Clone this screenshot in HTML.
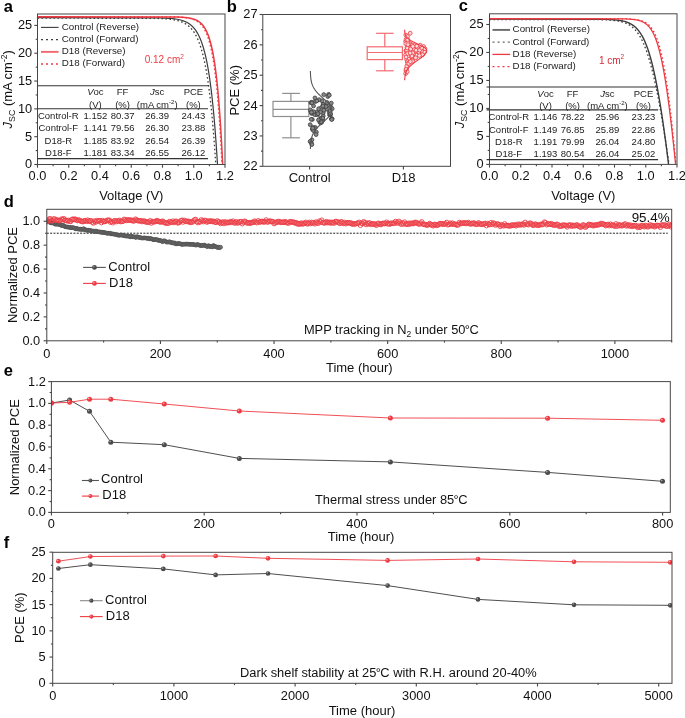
<!DOCTYPE html>
<html><head><meta charset="utf-8"><style>
html,body{margin:0;padding:0;background:#fff;}
svg{display:block;font-family:"Liberation Sans", sans-serif;will-change:transform;}
</style></head><body>
<svg width="685" height="718" viewBox="0 0 685 718">
<rect width="685" height="718" fill="#fff"/>
<clipPath id="c37"><rect x="37.5" y="14.0" width="187.5" height="150.5"/></clipPath>
<g clip-path="url(#c37)">
<polyline points="37.50,18.17 149.87,18.29 156.31,18.41 160.08,18.53 162.75,18.65 164.83,18.78 166.52,18.90 167.96,19.02 169.20,19.14 170.29,19.26 171.27,19.39 172.16,19.51 172.97,19.63 174.40,19.87 175.64,20.12 176.74,20.36 177.72,20.61 178.60,20.85 179.41,21.09 180.51,21.46 181.49,21.83 182.37,22.19 183.18,22.56 183.93,22.92 184.83,23.41 185.66,23.90 186.42,24.39 187.12,24.87 187.77,25.36 188.53,25.97 189.23,26.58 189.88,27.19 190.49,27.80 191.06,28.41 191.60,29.02 192.20,29.75 192.77,30.48 193.31,31.21 193.82,31.95 194.30,32.68 194.75,33.41 195.19,34.14 195.61,34.87 196.00,35.60 196.39,36.34 196.75,37.07 197.11,37.80 197.45,38.53 197.78,39.26 198.14,40.12 198.50,40.97 198.84,41.82 199.17,42.68 199.49,43.53 199.80,44.38 200.09,45.24 200.38,46.09 200.66,46.95 200.93,47.80 201.20,48.65 201.45,49.51 201.70,50.36 201.95,51.21 202.18,52.07 202.42,52.92 202.64,53.77 202.86,54.63 203.08,55.48 203.29,56.34 203.49,57.19 203.69,58.04 203.89,58.90 204.08,59.75 204.27,60.60 204.46,61.46 204.64,62.31 204.82,63.16 204.99,64.02 205.16,64.87 205.33,65.73 205.50,66.58 205.66,67.43 205.82,68.29 205.98,69.14 206.13,69.99 206.28,70.85 206.43,71.70 206.58,72.55 206.72,73.41 206.87,74.26 207.01,75.11 207.15,75.97 207.28,76.82 207.42,77.68 207.55,78.53 207.68,79.38 207.81,80.24 207.93,81.09 208.06,81.94 208.18,82.80 208.31,83.65 208.43,84.50 208.55,85.36 208.66,86.21 208.78,87.07 208.89,87.92 209.01,88.77 209.12,89.63 209.23,90.48 209.34,91.33 209.44,92.19 209.55,93.04 209.66,93.89 209.76,94.75 209.86,95.60 209.97,96.46 210.07,97.31 210.17,98.16 210.27,99.02 210.36,99.87 210.46,100.72 210.56,101.58 210.65,102.43 210.74,103.28 210.84,104.14 210.93,104.99 211.02,105.84 211.11,106.70 211.20,107.55 211.29,108.41 211.37,109.26 211.46,110.11 211.55,110.97 211.63,111.82 211.72,112.67 211.80,113.53 211.88,114.38 211.97,115.23 212.05,116.09 212.13,116.94 212.21,117.80 212.29,118.65 212.37,119.50 212.44,120.36 212.52,121.21 212.60,122.06 212.67,122.92 212.75,123.77 212.82,124.62 212.90,125.48 212.97,126.33 213.04,127.19 213.12,128.04 213.19,128.89 213.26,129.75 213.33,130.60 213.40,131.45 213.47,132.31 213.54,133.16 213.61,134.01 213.68,134.87 213.75,135.72 213.81,136.57 213.88,137.43 213.95,138.28 214.01,139.14 214.08,139.99 214.14,140.84 214.21,141.70 214.27,142.55 214.33,143.40 214.40,144.26 214.46,145.11 214.52,145.96 214.58,146.82 214.65,147.67 214.71,148.53 214.77,149.38 214.83,150.23 214.89,151.09 214.95,151.94 215.01,152.79 215.06,153.65 215.12,154.50 215.18,155.35 215.24,156.21 215.30,157.06 215.35,157.92 215.41,158.77 215.47,159.62 215.52,160.48 215.58,161.33 215.63,162.18 215.69,163.04 215.74,163.89 215.78,164.50" fill="none" stroke="#3c3c3c" stroke-width="1.3" stroke-linejoin="round" stroke-dasharray="1.6,2.4"/>
<polyline points="37.50,17.67 154.35,17.79 160.53,17.91 164.14,18.03 166.70,18.16 168.69,18.28 170.31,18.40 171.68,18.52 172.87,18.64 173.92,18.77 174.86,18.89 175.71,19.01 177.20,19.26 178.47,19.50 179.59,19.75 180.58,19.99 181.47,20.24 182.28,20.48 183.37,20.85 184.34,21.21 185.22,21.58 186.02,21.95 186.75,22.32 187.64,22.81 188.45,23.29 189.20,23.78 189.88,24.27 190.52,24.76 191.25,25.37 191.93,25.99 192.57,26.60 193.16,27.21 193.71,27.82 194.23,28.43 194.82,29.17 195.37,29.90 195.89,30.64 196.38,31.37 196.84,32.10 197.28,32.84 197.71,33.57 198.11,34.31 198.49,35.04 198.86,35.78 199.21,36.51 199.55,37.24 199.88,37.98 200.25,38.83 200.60,39.69 200.94,40.55 201.27,41.40 201.59,42.26 201.89,43.12 202.19,43.97 202.47,44.83 202.75,45.69 203.02,46.54 203.28,47.40 203.53,48.26 203.78,49.11 204.01,49.97 204.25,50.83 204.48,51.68 204.70,52.54 204.91,53.40 205.12,54.25 205.33,55.11 205.53,55.97 205.73,56.82 205.92,57.68 206.11,58.53 206.29,59.39 206.48,60.25 206.65,61.10 206.83,61.96 207.00,62.82 207.16,63.67 207.33,64.53 207.49,65.39 207.65,66.24 207.80,67.10 207.96,67.96 208.11,68.81 208.26,69.67 208.40,70.53 208.54,71.38 208.68,72.24 208.82,73.10 208.96,73.95 209.09,74.81 209.23,75.67 209.36,76.52 209.49,77.38 209.61,78.24 209.74,79.09 209.86,79.95 209.98,80.80 210.10,81.66 210.22,82.52 210.34,83.37 210.45,84.23 210.57,85.09 210.68,85.94 210.79,86.80 210.90,87.66 211.01,88.51 211.12,89.37 211.22,90.23 211.33,91.08 211.43,91.94 211.53,92.80 211.63,93.65 211.73,94.51 211.83,95.37 211.93,96.22 212.03,97.08 212.12,97.94 212.22,98.79 212.31,99.65 212.40,100.50 212.49,101.36 212.58,102.22 212.67,103.07 212.76,103.93 212.85,104.79 212.94,105.64 213.02,106.50 213.11,107.36 213.19,108.21 213.28,109.07 213.36,109.93 213.44,110.78 213.53,111.64 213.61,112.50 213.69,113.35 213.77,114.21 213.84,115.07 213.92,115.92 214.00,116.78 214.08,117.64 214.15,118.49 214.23,119.35 214.30,120.21 214.38,121.06 214.45,121.92 214.52,122.77 214.59,123.63 214.67,124.49 214.74,125.34 214.81,126.20 214.88,127.06 214.95,127.91 215.02,128.77 215.09,129.63 215.15,130.48 215.22,131.34 215.29,132.20 215.35,133.05 215.42,133.91 215.48,134.77 215.55,135.62 215.61,136.48 215.68,137.34 215.74,138.19 215.80,139.05 215.87,139.91 215.93,140.76 215.99,141.62 216.05,142.47 216.11,143.33 216.17,144.19 216.23,145.04 216.29,145.90 216.35,146.76 216.41,147.61 216.47,148.47 216.53,149.33 216.59,150.18 216.64,151.04 216.70,151.90 216.76,152.75 216.81,153.61 216.87,154.47 216.93,155.32 216.98,156.18 217.04,157.04 217.09,157.89 217.14,158.75 217.20,159.61 217.25,160.46 217.30,161.32 217.36,162.18 217.41,163.03 217.46,163.89 217.50,164.50" fill="none" stroke="#3c3c3c" stroke-width="1.2" stroke-linejoin="round" />
<polyline points="37.50,16.78 171.63,16.90 176.55,17.02 179.44,17.15 181.48,17.27 183.07,17.39 184.36,17.51 185.46,17.64 186.41,17.76 187.25,17.88 188.67,18.13 189.86,18.38 190.88,18.62 191.77,18.87 192.56,19.11 193.60,19.48 194.51,19.85 195.32,20.22 196.04,20.59 196.90,21.08 197.67,21.58 198.37,22.07 199.00,22.56 199.72,23.18 200.37,23.79 200.97,24.41 201.52,25.02 202.03,25.64 202.60,26.38 203.13,27.12 203.62,27.86 204.07,28.59 204.51,29.33 204.91,30.07 205.30,30.81 205.66,31.55 206.01,32.29 206.34,33.03 206.65,33.76 207.01,34.63 207.34,35.49 207.66,36.35 207.97,37.21 208.26,38.07 208.54,38.93 208.82,39.80 209.08,40.66 209.33,41.52 209.57,42.38 209.81,43.24 210.03,44.10 210.26,44.97 210.47,45.83 210.68,46.69 210.88,47.55 211.08,48.41 211.27,49.28 211.45,50.14 211.63,51.00 211.81,51.86 211.98,52.72 212.15,53.58 212.32,54.45 212.48,55.31 212.63,56.17 212.79,57.03 212.94,57.89 213.09,58.75 213.23,59.62 213.37,60.48 213.51,61.34 213.65,62.20 213.78,63.06 213.91,63.92 214.04,64.79 214.17,65.65 214.29,66.51 214.41,67.37 214.53,68.23 214.65,69.09 214.77,69.96 214.88,70.82 214.99,71.68 215.11,72.54 215.21,73.40 215.32,74.27 215.43,75.13 215.53,75.99 215.63,76.85 215.74,77.71 215.84,78.57 215.93,79.44 216.03,80.30 216.13,81.16 216.22,82.02 216.31,82.88 216.41,83.74 216.50,84.61 216.59,85.47 216.68,86.33 216.76,87.19 216.85,88.05 216.94,88.91 217.02,89.78 217.10,90.64 217.19,91.50 217.27,92.36 217.35,93.22 217.43,94.08 217.51,94.95 217.58,95.81 217.66,96.67 217.74,97.53 217.81,98.39 217.89,99.26 217.96,100.12 218.03,100.98 218.11,101.84 218.18,102.70 218.25,103.56 218.32,104.43 218.39,105.29 218.46,106.15 218.53,107.01 218.59,107.87 218.66,108.73 218.73,109.60 218.79,110.46 218.86,111.32 218.92,112.18 218.99,113.04 219.05,113.90 219.11,114.77 219.18,115.63 219.24,116.49 219.30,117.35 219.36,118.21 219.42,119.07 219.48,119.94 219.54,120.80 219.60,121.66 219.65,122.52 219.71,123.38 219.77,124.25 219.83,125.11 219.88,125.97 219.94,126.83 219.99,127.69 220.05,128.55 220.10,129.42 220.16,130.28 220.21,131.14 220.26,132.00 220.32,132.86 220.37,133.72 220.42,134.59 220.47,135.45 220.53,136.31 220.58,137.17 220.63,138.03 220.68,138.89 220.73,139.76 220.78,140.62 220.83,141.48 220.88,142.34 220.92,143.20 220.97,144.06 221.02,144.93 221.07,145.79 221.12,146.65 221.16,147.51 221.21,148.37 221.26,149.24 221.30,150.10 221.35,150.96 221.39,151.82 221.44,152.68 221.48,153.54 221.53,154.41 221.57,155.27 221.62,156.13 221.66,156.99 221.70,157.85 221.75,158.71 221.79,159.58 221.83,160.44 221.88,161.30 221.92,162.16 221.96,163.02 222.00,163.88 222.03,164.50" fill="none" stroke="#ee3b43" stroke-width="1.5" stroke-linejoin="round" stroke-dasharray="1.6,2.4"/>
<polyline points="37.50,16.83 173.47,16.95 178.28,17.08 181.09,17.20 183.09,17.32 184.63,17.45 185.90,17.57 186.97,17.69 187.89,17.82 188.71,17.94 190.10,18.19 191.26,18.43 192.26,18.68 193.12,18.92 193.90,19.17 194.91,19.54 195.80,19.91 196.59,20.28 197.51,20.77 198.33,21.26 199.06,21.75 199.72,22.25 200.47,22.86 201.14,23.48 201.76,24.09 202.32,24.71 202.84,25.32 203.42,26.06 203.96,26.80 204.45,27.54 204.91,28.28 205.35,29.01 205.76,29.75 206.14,30.49 206.51,31.23 206.85,31.97 207.18,32.71 207.50,33.44 207.85,34.31 208.18,35.17 208.50,36.03 208.81,36.89 209.10,37.75 209.38,38.61 209.65,39.47 209.91,40.34 210.16,41.20 210.40,42.06 210.63,42.92 210.86,43.78 211.07,44.64 211.29,45.50 211.49,46.37 211.69,47.23 211.88,48.09 212.07,48.95 212.26,49.81 212.44,50.67 212.61,51.53 212.78,52.39 212.95,53.26 213.11,54.12 213.27,54.98 213.42,55.84 213.57,56.70 213.72,57.56 213.87,58.42 214.01,59.29 214.15,60.15 214.28,61.01 214.42,61.87 214.55,62.73 214.68,63.59 214.81,64.45 214.93,65.32 215.05,66.18 215.17,67.04 215.29,67.90 215.41,68.76 215.52,69.62 215.63,70.48 215.74,71.35 215.85,72.21 215.96,73.07 216.06,73.93 216.17,74.79 216.27,75.65 216.37,76.51 216.47,77.38 216.57,78.24 216.67,79.10 216.76,79.96 216.85,80.82 216.95,81.68 217.04,82.54 217.13,83.41 217.22,84.27 217.31,85.13 217.39,85.99 217.48,86.85 217.56,87.71 217.65,88.57 217.73,89.44 217.81,90.30 217.89,91.16 217.97,92.02 218.05,92.88 218.13,93.74 218.21,94.60 218.28,95.46 218.36,96.33 218.43,97.19 218.51,98.05 218.58,98.91 218.65,99.77 218.73,100.63 218.80,101.49 218.87,102.36 218.94,103.22 219.01,104.08 219.07,104.94 219.14,105.80 219.21,106.66 219.27,107.52 219.34,108.39 219.40,109.25 219.47,110.11 219.53,110.97 219.60,111.83 219.66,112.69 219.72,113.55 219.78,114.42 219.84,115.28 219.90,116.14 219.96,117.00 220.02,117.86 220.08,118.72 220.14,119.58 220.20,120.45 220.26,121.31 220.31,122.17 220.37,123.03 220.43,123.89 220.48,124.75 220.54,125.61 220.59,126.48 220.65,127.34 220.70,128.20 220.75,129.06 220.81,129.92 220.86,130.78 220.91,131.64 220.96,132.51 221.01,133.37 221.06,134.23 221.12,135.09 221.17,135.95 221.22,136.81 221.27,137.67 221.31,138.53 221.36,139.40 221.41,140.26 221.46,141.12 221.51,141.98 221.56,142.84 221.60,143.70 221.65,144.56 221.70,145.43 221.74,146.29 221.79,147.15 221.83,148.01 221.88,148.87 221.93,149.73 221.97,150.59 222.01,151.46 222.06,152.32 222.10,153.18 222.15,154.04 222.19,154.90 222.23,155.76 222.28,156.62 222.32,157.49 222.36,158.35 222.40,159.21 222.44,160.07 222.49,160.93 222.53,161.79 222.57,162.65 222.61,163.52 222.65,164.38 222.66,164.50" fill="none" stroke="#ee3b43" stroke-width="1.5" stroke-linejoin="round" />
</g>
<rect x="37.50" y="14.00" width="187.50" height="150.50" fill="none" stroke="#464646" stroke-width="1.0"/>
<line x1="34.30" y1="164.50" x2="37.50" y2="164.50" stroke="#464646" stroke-width="1.1" />
<line x1="34.30" y1="136.68" x2="37.50" y2="136.68" stroke="#464646" stroke-width="1.1" />
<line x1="34.30" y1="108.86" x2="37.50" y2="108.86" stroke="#464646" stroke-width="1.1" />
<line x1="34.30" y1="81.04" x2="37.50" y2="81.04" stroke="#464646" stroke-width="1.1" />
<line x1="34.30" y1="53.22" x2="37.50" y2="53.22" stroke="#464646" stroke-width="1.1" />
<line x1="34.30" y1="25.40" x2="37.50" y2="25.40" stroke="#464646" stroke-width="1.1" />
<line x1="35.70" y1="150.59" x2="37.50" y2="150.59" stroke="#464646" stroke-width="1.1" />
<line x1="35.70" y1="122.77" x2="37.50" y2="122.77" stroke="#464646" stroke-width="1.1" />
<line x1="35.70" y1="94.95" x2="37.50" y2="94.95" stroke="#464646" stroke-width="1.1" />
<line x1="35.70" y1="67.13" x2="37.50" y2="67.13" stroke="#464646" stroke-width="1.1" />
<line x1="35.70" y1="39.31" x2="37.50" y2="39.31" stroke="#464646" stroke-width="1.1" />
<text x="32.20" y="168.48" font-size="12.8" text-anchor="end" fill="#111" >0</text>
<text x="32.20" y="140.66" font-size="12.8" text-anchor="end" fill="#111" >5</text>
<text x="32.20" y="112.84" font-size="12.8" text-anchor="end" fill="#111" >10</text>
<text x="32.20" y="85.02" font-size="12.8" text-anchor="end" fill="#111" >15</text>
<text x="32.20" y="57.20" font-size="12.8" text-anchor="end" fill="#111" >20</text>
<text x="32.20" y="29.38" font-size="12.8" text-anchor="end" fill="#111" >25</text>
<line x1="37.50" y1="164.50" x2="37.50" y2="167.70" stroke="#464646" stroke-width="1.1" />
<line x1="68.75" y1="164.50" x2="68.75" y2="167.70" stroke="#464646" stroke-width="1.1" />
<line x1="100.00" y1="164.50" x2="100.00" y2="167.70" stroke="#464646" stroke-width="1.1" />
<line x1="131.25" y1="164.50" x2="131.25" y2="167.70" stroke="#464646" stroke-width="1.1" />
<line x1="162.50" y1="164.50" x2="162.50" y2="167.70" stroke="#464646" stroke-width="1.1" />
<line x1="193.75" y1="164.50" x2="193.75" y2="167.70" stroke="#464646" stroke-width="1.1" />
<line x1="225.00" y1="164.50" x2="225.00" y2="167.70" stroke="#464646" stroke-width="1.1" />
<line x1="53.12" y1="164.50" x2="53.12" y2="166.30" stroke="#464646" stroke-width="1.1" />
<line x1="84.38" y1="164.50" x2="84.38" y2="166.30" stroke="#464646" stroke-width="1.1" />
<line x1="115.62" y1="164.50" x2="115.62" y2="166.30" stroke="#464646" stroke-width="1.1" />
<line x1="146.88" y1="164.50" x2="146.88" y2="166.30" stroke="#464646" stroke-width="1.1" />
<line x1="178.12" y1="164.50" x2="178.12" y2="166.30" stroke="#464646" stroke-width="1.1" />
<line x1="209.38" y1="164.50" x2="209.38" y2="166.30" stroke="#464646" stroke-width="1.1" />
<text x="37.50" y="180.30" font-size="12.8" text-anchor="middle" fill="#111" >0.0</text>
<text x="68.75" y="180.30" font-size="12.8" text-anchor="middle" fill="#111" >0.2</text>
<text x="100.00" y="180.30" font-size="12.8" text-anchor="middle" fill="#111" >0.4</text>
<text x="131.25" y="180.30" font-size="12.8" text-anchor="middle" fill="#111" >0.6</text>
<text x="162.50" y="180.30" font-size="12.8" text-anchor="middle" fill="#111" >0.8</text>
<text x="193.75" y="180.30" font-size="12.8" text-anchor="middle" fill="#111" >1.0</text>
<text x="225.00" y="180.30" font-size="12.8" text-anchor="middle" fill="#111" >1.2</text>
<line x1="41.00" y1="27.40" x2="58.60" y2="27.40" stroke="#3c3c3c" stroke-width="1.1" />
<text x="61.80" y="29.60" font-size="9.8" text-anchor="start" fill="#222" >Control (Reverse)</text>
<line x1="41.00" y1="39.63" x2="58.60" y2="39.63" stroke="#3c3c3c" stroke-width="1.3" stroke-dasharray="2,3"/>
<text x="61.80" y="41.83" font-size="9.8" text-anchor="start" fill="#222" >Control (Forward)</text>
<line x1="41.00" y1="51.86" x2="58.60" y2="51.86" stroke="#f0686d" stroke-width="1.9" />
<text x="61.80" y="54.06" font-size="9.8" text-anchor="start" fill="#222" >D18 (Reverse)</text>
<line x1="41.00" y1="64.09" x2="58.60" y2="64.09" stroke="#ee3b43" stroke-width="1.5" stroke-dasharray="2,3"/>
<text x="61.80" y="66.29" font-size="9.8" text-anchor="start" fill="#222" >D18 (Forward)</text>
<text x="144.70" y="62.90" font-size="10" fill="#ee3b43">0.12 cm<tspan font-size="6.5" dy="-4.2">2</tspan></text>
<line x1="37.50" y1="85.80" x2="208.00" y2="85.80" stroke="#333" stroke-width="1.1" />
<line x1="37.50" y1="108.80" x2="208.00" y2="108.80" stroke="#333" stroke-width="1.1" />
<line x1="37.50" y1="158.60" x2="208.00" y2="158.60" stroke="#333" stroke-width="1.1" />
<text x="95.40" y="95.30" font-size="9.5" text-anchor="middle" fill="#222"><tspan font-style="italic">V</tspan>oc</text>
<text x="95.40" y="107.60" font-size="9.5" text-anchor="middle" fill="#222" >(V)</text>
<text x="122.60" y="95.30" font-size="9.5" text-anchor="middle" fill="#222" >FF</text>
<text x="122.60" y="107.60" font-size="9.5" text-anchor="middle" fill="#222" >(%)</text>
<text x="157.20" y="95.30" font-size="9.5" text-anchor="middle" fill="#222"><tspan font-style="italic">J</tspan>sc</text>
<text x="157.20" y="107.60" font-size="9.5" text-anchor="middle" fill="#222">(mA cm<tspan font-size="6" dy="-3.5">-2</tspan><tspan dy="3.5">)</tspan></text>
<text x="193.40" y="95.30" font-size="9.5" text-anchor="middle" fill="#222" >PCE</text>
<text x="193.40" y="107.60" font-size="9.5" text-anchor="middle" fill="#222" >(%)</text>
<text x="58.30" y="118.70" font-size="9.5" text-anchor="middle" fill="#222" >Control-R</text>
<text x="95.40" y="118.70" font-size="9.5" text-anchor="middle" fill="#222" >1.152</text>
<text x="122.60" y="118.70" font-size="9.5" text-anchor="middle" fill="#222" >80.37</text>
<text x="157.20" y="118.70" font-size="9.5" text-anchor="middle" fill="#222" >26.39</text>
<text x="193.40" y="118.70" font-size="9.5" text-anchor="middle" fill="#222" >24.43</text>
<text x="58.30" y="131.20" font-size="9.5" text-anchor="middle" fill="#222" >Control-F</text>
<text x="95.40" y="131.20" font-size="9.5" text-anchor="middle" fill="#222" >1.141</text>
<text x="122.60" y="131.20" font-size="9.5" text-anchor="middle" fill="#222" >79.56</text>
<text x="157.20" y="131.20" font-size="9.5" text-anchor="middle" fill="#222" >26.30</text>
<text x="193.40" y="131.20" font-size="9.5" text-anchor="middle" fill="#222" >23.88</text>
<text x="58.30" y="143.60" font-size="9.5" text-anchor="middle" fill="#222" >D18-R</text>
<text x="95.40" y="143.60" font-size="9.5" text-anchor="middle" fill="#222" >1.185</text>
<text x="122.60" y="143.60" font-size="9.5" text-anchor="middle" fill="#222" >83.92</text>
<text x="157.20" y="143.60" font-size="9.5" text-anchor="middle" fill="#222" >26.54</text>
<text x="193.40" y="143.60" font-size="9.5" text-anchor="middle" fill="#222" >26.39</text>
<text x="58.30" y="155.90" font-size="9.5" text-anchor="middle" fill="#222" >D18-F</text>
<text x="95.40" y="155.90" font-size="9.5" text-anchor="middle" fill="#222" >1.181</text>
<text x="122.60" y="155.90" font-size="9.5" text-anchor="middle" fill="#222" >83.34</text>
<text x="157.20" y="155.90" font-size="9.5" text-anchor="middle" fill="#222" >26.55</text>
<text x="193.40" y="155.90" font-size="9.5" text-anchor="middle" fill="#222" >26.12</text>
<text x="3.80" y="11.50" font-size="16.5" text-anchor="start" fill="#000" font-weight="bold" >a</text>
<text x="131.30" y="199.70" font-size="13.0" text-anchor="middle" fill="#111" >Voltage (V)</text>
<text transform="translate(11.60,89.30) rotate(-90)" x="0" y="0" font-size="13.0" text-anchor="middle" fill="#111"><tspan font-style="italic">J</tspan><tspan font-size="8.8" dy="3.4">SC</tspan><tspan dy="-3.4"> (mA cm</tspan><tspan font-size="8.5" dy="-4.6">-2</tspan><tspan dy="4.6">)</tspan></text>
<clipPath id="c489"><rect x="489.5" y="13.8" width="187.5" height="150.6"/></clipPath>
<g clip-path="url(#c489)">
<polyline points="489.50,19.52 596.48,19.64 602.39,19.76 605.85,19.88 608.31,20.00 610.22,20.12 611.79,20.24 613.11,20.36 614.26,20.49 615.27,20.61 616.18,20.73 617.00,20.85 618.44,21.09 619.68,21.33 620.77,21.57 621.73,21.81 622.61,22.05 623.40,22.30 624.48,22.66 625.44,23.02 626.31,23.38 627.10,23.75 627.83,24.11 628.72,24.59 629.54,25.07 630.29,25.56 630.98,26.04 631.63,26.52 632.39,27.13 633.09,27.73 633.74,28.33 634.36,28.94 634.94,29.54 635.49,30.14 636.11,30.87 636.70,31.59 637.26,32.32 637.79,33.04 638.29,33.77 638.77,34.49 639.24,35.21 639.68,35.94 640.11,36.66 640.52,37.39 640.92,38.11 641.31,38.84 641.69,39.56 642.05,40.29 642.40,41.01 642.74,41.73 643.13,42.58 643.51,43.42 643.88,44.27 644.24,45.12 644.58,45.96 644.92,46.81 645.25,47.65 645.58,48.50 645.89,49.34 646.20,50.19 646.50,51.03 646.80,51.88 647.09,52.72 647.38,53.57 647.66,54.41 647.93,55.26 648.20,56.10 648.47,56.95 648.73,57.79 648.98,58.64 649.24,59.48 649.49,60.33 649.73,61.17 649.97,62.02 650.21,62.86 650.45,63.71 650.68,64.55 650.91,65.40 651.14,66.24 651.36,67.09 651.58,67.93 651.80,68.78 652.02,69.62 652.23,70.47 652.44,71.31 652.65,72.16 652.86,73.00 653.06,73.85 653.26,74.69 653.46,75.54 653.66,76.39 653.86,77.23 654.05,78.08 654.25,78.92 654.44,79.77 654.63,80.61 654.82,81.46 655.00,82.30 655.19,83.15 655.37,83.99 655.55,84.84 655.73,85.68 655.91,86.53 656.09,87.37 656.27,88.22 656.44,89.06 656.62,89.91 656.79,90.75 656.96,91.60 657.13,92.44 657.30,93.29 657.47,94.13 657.64,94.98 657.80,95.82 657.97,96.67 658.13,97.51 658.29,98.36 658.46,99.20 658.62,100.05 658.78,100.89 658.94,101.74 659.09,102.58 659.25,103.43 659.41,104.27 659.56,105.12 659.72,105.96 659.87,106.81 660.03,107.66 660.18,108.50 660.33,109.35 660.48,110.19 660.63,111.04 660.78,111.88 660.93,112.73 661.08,113.57 661.22,114.42 661.37,115.26 661.52,116.11 661.66,116.95 661.81,117.80 661.95,118.64 662.09,119.49 662.24,120.33 662.38,121.18 662.52,122.02 662.66,122.87 662.80,123.71 662.94,124.56 663.08,125.40 663.22,126.25 663.36,127.09 663.50,127.94 663.63,128.78 663.77,129.63 663.91,130.47 664.04,131.32 664.18,132.16 664.31,133.01 664.45,133.85 664.58,134.70 664.71,135.54 664.85,136.39 664.98,137.23 665.11,138.08 665.24,138.93 665.37,139.77 665.50,140.62 665.63,141.46 665.76,142.31 665.89,143.15 666.02,144.00 666.15,144.84 666.28,145.69 666.41,146.53 666.53,147.38 666.66,148.22 666.79,149.07 666.92,149.91 667.04,150.76 667.17,151.60 667.29,152.45 667.42,153.29 667.54,154.14 667.67,154.98 667.79,155.83 667.91,156.67 668.04,157.52 668.16,158.36 668.28,159.21 668.41,160.05 668.53,160.90 668.65,161.74 668.77,162.59 668.89,163.43 669.01,164.28 669.03,164.40" fill="none" stroke="#3c3c3c" stroke-width="1.3" stroke-linejoin="round" stroke-dasharray="1.6,2.4"/>
<polyline points="489.50,19.13 599.71,19.25 605.52,19.37 608.92,19.49 611.34,19.61 613.22,19.73 614.75,19.85 616.05,19.98 617.18,20.10 618.17,20.22 619.06,20.34 619.87,20.46 621.28,20.70 622.50,20.94 623.56,21.19 624.51,21.43 625.36,21.67 626.14,21.91 627.19,22.28 628.13,22.64 628.98,23.00 629.75,23.36 630.69,23.85 631.54,24.33 632.32,24.82 633.03,25.30 633.69,25.79 634.46,26.39 635.17,27.00 635.83,27.60 636.45,28.21 637.03,28.81 637.58,29.42 638.20,30.14 638.78,30.87 639.33,31.60 639.85,32.32 640.35,33.05 640.82,33.78 641.27,34.50 641.71,35.23 642.12,35.96 642.52,36.68 642.91,37.41 643.29,38.13 643.65,38.86 644.00,39.59 644.34,40.31 644.72,41.16 645.09,42.01 645.45,42.86 645.80,43.70 646.14,44.55 646.47,45.40 646.79,46.25 647.10,47.09 647.41,47.94 647.71,48.79 648.00,49.63 648.28,50.48 648.56,51.33 648.84,52.18 649.10,53.02 649.37,53.87 649.62,54.72 649.87,55.57 650.12,56.41 650.37,57.26 650.61,58.11 650.84,58.96 651.07,59.80 651.30,60.65 651.53,61.50 651.75,62.35 651.96,63.19 652.18,64.04 652.39,64.89 652.60,65.74 652.81,66.58 653.01,67.43 653.21,68.28 653.41,69.13 653.61,69.97 653.80,70.82 653.99,71.67 654.18,72.52 654.37,73.36 654.55,74.21 654.74,75.06 654.92,75.91 655.10,76.75 655.27,77.60 655.45,78.45 655.62,79.29 655.80,80.14 655.97,80.99 656.14,81.84 656.30,82.68 656.47,83.53 656.64,84.38 656.80,85.23 656.96,86.07 657.12,86.92 657.28,87.77 657.44,88.62 657.60,89.46 657.75,90.31 657.91,91.16 658.06,92.01 658.21,92.85 658.36,93.70 658.51,94.55 658.66,95.40 658.81,96.24 658.96,97.09 659.10,97.94 659.25,98.79 659.39,99.63 659.53,100.48 659.68,101.33 659.82,102.18 659.96,103.02 660.10,103.87 660.24,104.72 660.37,105.56 660.51,106.41 660.65,107.26 660.78,108.11 660.92,108.95 661.05,109.80 661.18,110.65 661.32,111.50 661.45,112.34 661.58,113.19 661.71,114.04 661.84,114.89 661.97,115.73 662.10,116.58 662.22,117.43 662.35,118.28 662.48,119.12 662.60,119.97 662.73,120.82 662.85,121.67 662.98,122.51 663.10,123.36 663.23,124.21 663.35,125.06 663.47,125.90 663.59,126.75 663.71,127.60 663.83,128.45 663.95,129.29 664.07,130.14 664.19,130.99 664.31,131.83 664.43,132.68 664.55,133.53 664.66,134.38 664.78,135.22 664.90,136.07 665.01,136.92 665.13,137.77 665.24,138.61 665.36,139.46 665.47,140.31 665.58,141.16 665.70,142.00 665.81,142.85 665.92,143.70 666.04,144.55 666.15,145.39 666.26,146.24 666.37,147.09 666.48,147.94 666.59,148.78 666.70,149.63 666.81,150.48 666.92,151.33 667.03,152.17 667.14,153.02 667.24,153.87 667.35,154.72 667.46,155.56 667.57,156.41 667.67,157.26 667.78,158.10 667.89,158.95 667.99,159.80 668.10,160.65 668.20,161.49 668.31,162.34 668.41,163.19 668.52,164.04 668.56,164.40" fill="none" stroke="#3c3c3c" stroke-width="1.4" stroke-linejoin="round" />
<polyline points="489.50,18.68 622.51,18.80 627.06,18.92 629.73,19.04 631.62,19.17 633.09,19.29 634.30,19.41 635.31,19.53 636.19,19.65 637.67,19.89 638.88,20.14 639.90,20.38 640.79,20.62 641.57,20.87 642.60,21.23 643.50,21.59 644.29,21.96 645.22,22.44 646.04,22.93 646.77,23.42 647.43,23.90 648.18,24.51 648.86,25.12 649.48,25.72 650.05,26.33 650.58,26.94 651.17,27.67 651.72,28.39 652.23,29.12 652.70,29.85 653.15,30.58 653.58,31.31 653.98,32.04 654.36,32.77 654.73,33.50 655.08,34.22 655.41,34.95 655.79,35.80 656.14,36.65 656.49,37.50 656.82,38.35 657.14,39.20 657.44,40.05 657.74,40.90 658.02,41.75 658.30,42.60 658.57,43.45 658.83,44.30 659.09,45.15 659.33,46.00 659.58,46.85 659.81,47.70 660.04,48.55 660.26,49.40 660.48,50.25 660.70,51.10 660.91,51.95 661.11,52.80 661.32,53.65 661.51,54.50 661.71,55.35 661.90,56.20 662.09,57.05 662.27,57.90 662.45,58.75 662.63,59.60 662.80,60.45 662.97,61.30 663.14,62.15 663.31,63.00 663.48,63.85 663.64,64.70 663.80,65.55 663.96,66.40 664.11,67.25 664.27,68.10 664.42,68.95 664.57,69.80 664.72,70.65 664.86,71.50 665.01,72.35 665.15,73.20 665.29,74.05 665.43,74.90 665.57,75.75 665.71,76.60 665.85,77.45 665.98,78.30 666.11,79.15 666.24,80.00 666.37,80.85 666.50,81.70 666.63,82.55 666.76,83.40 666.88,84.25 667.01,85.10 667.13,85.95 667.26,86.80 667.38,87.65 667.50,88.50 667.62,89.35 667.74,90.20 667.85,91.05 667.97,91.90 668.09,92.75 668.20,93.60 668.31,94.45 668.43,95.30 668.54,96.15 668.65,97.00 668.76,97.85 668.87,98.70 668.98,99.55 669.09,100.40 669.20,101.25 669.31,102.10 669.41,102.95 669.52,103.80 669.62,104.65 669.73,105.50 669.83,106.35 669.94,107.20 670.04,108.05 670.14,108.91 670.24,109.76 670.34,110.61 670.45,111.46 670.55,112.31 670.64,113.16 670.74,114.01 670.84,114.86 670.94,115.71 671.04,116.56 671.13,117.41 671.23,118.26 671.33,119.11 671.42,119.96 671.52,120.81 671.61,121.66 671.71,122.51 671.80,123.36 671.89,124.21 671.98,125.06 672.08,125.91 672.17,126.76 672.26,127.61 672.35,128.46 672.44,129.31 672.53,130.16 672.62,131.01 672.71,131.86 672.80,132.71 672.89,133.56 672.98,134.41 673.07,135.26 673.15,136.11 673.24,136.96 673.33,137.81 673.42,138.66 673.50,139.51 673.59,140.36 673.67,141.21 673.76,142.06 673.84,142.91 673.93,143.76 674.01,144.61 674.10,145.46 674.18,146.31 674.27,147.16 674.35,148.01 674.43,148.86 674.52,149.71 674.60,150.56 674.68,151.41 674.76,152.26 674.84,153.11 674.93,153.96 675.01,154.81 675.09,155.66 675.17,156.51 675.25,157.36 675.33,158.21 675.41,159.06 675.49,159.91 675.57,160.76 675.65,161.61 675.73,162.46 675.81,163.31 675.88,164.16 675.91,164.40" fill="none" stroke="#ee3b43" stroke-width="1.4" stroke-linejoin="round" stroke-dasharray="1.6,2.4"/>
<polyline points="489.50,18.68 621.06,18.80 625.61,18.92 628.28,19.04 630.17,19.17 631.64,19.29 632.85,19.41 633.87,19.53 634.75,19.65 636.23,19.89 637.44,20.14 638.46,20.38 639.35,20.62 640.14,20.87 641.17,21.23 642.07,21.59 642.86,21.96 643.79,22.44 644.62,22.93 645.35,23.42 646.02,23.90 646.77,24.51 647.46,25.12 648.08,25.72 648.66,26.33 649.19,26.94 649.79,27.67 650.34,28.39 650.86,29.12 651.34,29.85 651.79,30.58 652.22,31.31 652.63,32.04 653.02,32.77 653.39,33.50 653.75,34.22 654.09,34.95 654.47,35.80 654.83,36.65 655.18,37.50 655.52,38.35 655.84,39.20 656.16,40.05 656.46,40.90 656.75,41.75 657.04,42.60 657.31,43.45 657.58,44.30 657.84,45.15 658.10,46.00 658.34,46.85 658.59,47.70 658.82,48.55 659.05,49.40 659.28,50.25 659.50,51.10 659.72,51.95 659.93,52.80 660.14,53.65 660.34,54.50 660.54,55.35 660.74,56.20 660.93,57.05 661.12,57.90 661.31,58.75 661.49,59.60 661.68,60.45 661.86,61.30 662.03,62.15 662.21,63.00 662.38,63.85 662.55,64.70 662.71,65.55 662.88,66.40 663.04,67.25 663.20,68.10 663.36,68.95 663.52,69.80 663.67,70.65 663.82,71.50 663.98,72.35 664.13,73.20 664.27,74.05 664.42,74.90 664.57,75.75 664.71,76.60 664.85,77.45 664.99,78.30 665.13,79.15 665.27,80.00 665.41,80.85 665.54,81.70 665.68,82.55 665.81,83.40 665.94,84.25 666.08,85.10 666.21,85.95 666.34,86.80 666.46,87.65 666.59,88.50 666.72,89.35 666.84,90.20 666.97,91.05 667.09,91.90 667.21,92.75 667.33,93.60 667.45,94.45 667.57,95.30 667.69,96.15 667.81,97.00 667.93,97.85 668.05,98.70 668.16,99.55 668.28,100.40 668.39,101.25 668.51,102.10 668.62,102.95 668.73,103.80 668.84,104.65 668.96,105.50 669.07,106.35 669.18,107.20 669.29,108.05 669.40,108.91 669.50,109.76 669.61,110.61 669.72,111.46 669.82,112.31 669.93,113.16 670.04,114.01 670.14,114.86 670.25,115.71 670.35,116.56 670.45,117.41 670.56,118.26 670.66,119.11 670.76,119.96 670.86,120.81 670.96,121.66 671.06,122.51 671.16,123.36 671.26,124.21 671.36,125.06 671.46,125.91 671.56,126.76 671.66,127.61 671.76,128.46 671.86,129.31 671.95,130.16 672.05,131.01 672.14,131.86 672.24,132.71 672.34,133.56 672.43,134.41 672.53,135.26 672.62,136.11 672.71,136.96 672.81,137.81 672.90,138.66 673.00,139.51 673.09,140.36 673.18,141.21 673.27,142.06 673.36,142.91 673.46,143.76 673.55,144.61 673.64,145.46 673.73,146.31 673.82,147.16 673.91,148.01 674.00,148.86 674.09,149.71 674.18,150.56 674.27,151.41 674.35,152.26 674.44,153.11 674.53,153.96 674.62,154.81 674.71,155.66 674.79,156.51 674.88,157.36 674.97,158.21 675.05,159.06 675.14,159.91 675.23,160.76 675.31,161.61 675.40,162.46 675.48,163.31 675.57,164.16 675.59,164.40" fill="none" stroke="#ee3b43" stroke-width="1.3" stroke-linejoin="round" />
</g>
<rect x="489.50" y="13.80" width="187.50" height="150.60" fill="none" stroke="#464646" stroke-width="1.0"/>
<line x1="486.30" y1="164.40" x2="489.50" y2="164.40" stroke="#464646" stroke-width="1.1" />
<line x1="486.30" y1="136.42" x2="489.50" y2="136.42" stroke="#464646" stroke-width="1.1" />
<line x1="486.30" y1="108.44" x2="489.50" y2="108.44" stroke="#464646" stroke-width="1.1" />
<line x1="486.30" y1="80.46" x2="489.50" y2="80.46" stroke="#464646" stroke-width="1.1" />
<line x1="486.30" y1="52.48" x2="489.50" y2="52.48" stroke="#464646" stroke-width="1.1" />
<line x1="486.30" y1="24.50" x2="489.50" y2="24.50" stroke="#464646" stroke-width="1.1" />
<line x1="487.70" y1="150.41" x2="489.50" y2="150.41" stroke="#464646" stroke-width="1.1" />
<line x1="487.70" y1="122.43" x2="489.50" y2="122.43" stroke="#464646" stroke-width="1.1" />
<line x1="487.70" y1="94.45" x2="489.50" y2="94.45" stroke="#464646" stroke-width="1.1" />
<line x1="487.70" y1="66.47" x2="489.50" y2="66.47" stroke="#464646" stroke-width="1.1" />
<line x1="487.70" y1="38.49" x2="489.50" y2="38.49" stroke="#464646" stroke-width="1.1" />
<text x="483.50" y="168.38" font-size="12.8" text-anchor="end" fill="#111" >0</text>
<text x="483.50" y="140.40" font-size="12.8" text-anchor="end" fill="#111" >5</text>
<text x="483.50" y="112.42" font-size="12.8" text-anchor="end" fill="#111" >10</text>
<text x="483.50" y="84.44" font-size="12.8" text-anchor="end" fill="#111" >15</text>
<text x="483.50" y="56.46" font-size="12.8" text-anchor="end" fill="#111" >20</text>
<text x="483.50" y="28.48" font-size="12.8" text-anchor="end" fill="#111" >25</text>
<line x1="489.50" y1="164.40" x2="489.50" y2="167.60" stroke="#464646" stroke-width="1.1" />
<line x1="520.75" y1="164.40" x2="520.75" y2="167.60" stroke="#464646" stroke-width="1.1" />
<line x1="552.00" y1="164.40" x2="552.00" y2="167.60" stroke="#464646" stroke-width="1.1" />
<line x1="583.25" y1="164.40" x2="583.25" y2="167.60" stroke="#464646" stroke-width="1.1" />
<line x1="614.50" y1="164.40" x2="614.50" y2="167.60" stroke="#464646" stroke-width="1.1" />
<line x1="645.75" y1="164.40" x2="645.75" y2="167.60" stroke="#464646" stroke-width="1.1" />
<line x1="677.00" y1="164.40" x2="677.00" y2="167.60" stroke="#464646" stroke-width="1.1" />
<line x1="505.12" y1="164.40" x2="505.12" y2="166.20" stroke="#464646" stroke-width="1.1" />
<line x1="536.38" y1="164.40" x2="536.38" y2="166.20" stroke="#464646" stroke-width="1.1" />
<line x1="567.62" y1="164.40" x2="567.62" y2="166.20" stroke="#464646" stroke-width="1.1" />
<line x1="598.88" y1="164.40" x2="598.88" y2="166.20" stroke="#464646" stroke-width="1.1" />
<line x1="630.12" y1="164.40" x2="630.12" y2="166.20" stroke="#464646" stroke-width="1.1" />
<line x1="661.38" y1="164.40" x2="661.38" y2="166.20" stroke="#464646" stroke-width="1.1" />
<text x="489.50" y="180.20" font-size="12.8" text-anchor="middle" fill="#111" >0.0</text>
<text x="520.75" y="180.20" font-size="12.8" text-anchor="middle" fill="#111" >0.2</text>
<text x="552.00" y="180.20" font-size="12.8" text-anchor="middle" fill="#111" >0.4</text>
<text x="583.25" y="180.20" font-size="12.8" text-anchor="middle" fill="#111" >0.6</text>
<text x="614.50" y="180.20" font-size="12.8" text-anchor="middle" fill="#111" >0.8</text>
<text x="645.75" y="180.20" font-size="12.8" text-anchor="middle" fill="#111" >1.0</text>
<text x="677.00" y="180.20" font-size="12.8" text-anchor="middle" fill="#111" >1.2</text>
<line x1="492.50" y1="29.90" x2="510.10" y2="29.90" stroke="#6a6a6a" stroke-width="1.9" />
<text x="512.60" y="32.40" font-size="9.8" text-anchor="start" fill="#222" >Control (Reverse)</text>
<line x1="492.50" y1="42.15" x2="510.10" y2="42.15" stroke="#666" stroke-width="1.3" stroke-dasharray="2,3.1"/>
<text x="512.60" y="44.65" font-size="9.8" text-anchor="start" fill="#222" >Control (Forward)</text>
<line x1="492.50" y1="54.40" x2="510.10" y2="54.40" stroke="#ee3b43" stroke-width="1.3" />
<text x="512.60" y="56.90" font-size="9.8" text-anchor="start" fill="#222" >D18 (Reverse)</text>
<line x1="492.50" y1="66.65" x2="510.10" y2="66.65" stroke="#ee3b43" stroke-width="1.1" stroke-dasharray="2,3"/>
<text x="512.60" y="69.15" font-size="9.8" text-anchor="start" fill="#222" >D18 (Forward)</text>
<text x="598.90" y="63.60" font-size="10" fill="#d42a35">1 cm<tspan font-size="6.5" dy="-4.2">2</tspan></text>
<line x1="486.60" y1="87.00" x2="658.10" y2="87.00" stroke="#333" stroke-width="1.1" />
<line x1="486.60" y1="109.90" x2="658.10" y2="109.90" stroke="#333" stroke-width="1.1" />
<line x1="486.60" y1="159.60" x2="658.10" y2="159.60" stroke="#333" stroke-width="1.1" />
<text x="545.50" y="96.80" font-size="9.5" text-anchor="middle" fill="#222"><tspan font-style="italic">V</tspan>oc</text>
<text x="545.50" y="108.50" font-size="9.5" text-anchor="middle" fill="#222" >(V)</text>
<text x="572.60" y="96.80" font-size="9.5" text-anchor="middle" fill="#222" >FF</text>
<text x="572.60" y="108.50" font-size="9.5" text-anchor="middle" fill="#222" >(%)</text>
<text x="607.40" y="96.80" font-size="9.5" text-anchor="middle" fill="#222"><tspan font-style="italic">J</tspan>sc</text>
<text x="607.40" y="108.50" font-size="9.5" text-anchor="middle" fill="#222">(mA cm<tspan font-size="6" dy="-3.5">-2</tspan><tspan dy="3.5">)</tspan></text>
<text x="643.50" y="96.80" font-size="9.5" text-anchor="middle" fill="#222" >PCE</text>
<text x="643.50" y="108.50" font-size="9.5" text-anchor="middle" fill="#222" >(%)</text>
<text x="508.80" y="120.10" font-size="9.5" text-anchor="middle" fill="#222" >Control-R</text>
<text x="545.50" y="120.10" font-size="9.5" text-anchor="middle" fill="#222" >1.146</text>
<text x="572.60" y="120.10" font-size="9.5" text-anchor="middle" fill="#222" >78.22</text>
<text x="607.40" y="120.10" font-size="9.5" text-anchor="middle" fill="#222" >25.96</text>
<text x="643.50" y="120.10" font-size="9.5" text-anchor="middle" fill="#222" >23.23</text>
<text x="508.80" y="132.60" font-size="9.5" text-anchor="middle" fill="#222" >Control-F</text>
<text x="545.50" y="132.60" font-size="9.5" text-anchor="middle" fill="#222" >1.149</text>
<text x="572.60" y="132.60" font-size="9.5" text-anchor="middle" fill="#222" >76.85</text>
<text x="607.40" y="132.60" font-size="9.5" text-anchor="middle" fill="#222" >25.89</text>
<text x="643.50" y="132.60" font-size="9.5" text-anchor="middle" fill="#222" >22.86</text>
<text x="508.80" y="145.00" font-size="9.5" text-anchor="middle" fill="#222" >D18-R</text>
<text x="545.50" y="145.00" font-size="9.5" text-anchor="middle" fill="#222" >1.191</text>
<text x="572.60" y="145.00" font-size="9.5" text-anchor="middle" fill="#222" >79.99</text>
<text x="607.40" y="145.00" font-size="9.5" text-anchor="middle" fill="#222" >26.04</text>
<text x="643.50" y="145.00" font-size="9.5" text-anchor="middle" fill="#222" >24.80</text>
<text x="508.80" y="157.10" font-size="9.5" text-anchor="middle" fill="#222" >D18-F</text>
<text x="545.50" y="157.10" font-size="9.5" text-anchor="middle" fill="#222" >1.193</text>
<text x="572.60" y="157.10" font-size="9.5" text-anchor="middle" fill="#222" >80.54</text>
<text x="607.40" y="157.10" font-size="9.5" text-anchor="middle" fill="#222" >26.04</text>
<text x="643.50" y="157.10" font-size="9.5" text-anchor="middle" fill="#222" >25.02</text>
<text x="458.80" y="11.40" font-size="16.5" text-anchor="start" fill="#000" font-weight="bold" >c</text>
<text x="583.30" y="199.70" font-size="13.0" text-anchor="middle" fill="#111" >Voltage (V)</text>
<text transform="translate(463.60,89.10) rotate(-90)" x="0" y="0" font-size="13.0" text-anchor="middle" fill="#111"><tspan font-style="italic">J</tspan><tspan font-size="8.8" dy="3.4">SC</tspan><tspan dy="-3.4"> (mA cm</tspan><tspan font-size="8.5" dy="-4.6">-2</tspan><tspan dy="4.6">)</tspan></text>
<rect x="262.80" y="14.50" width="187.70" height="151.80" fill="none" stroke="#464646" stroke-width="1.0"/>
<line x1="259.60" y1="166.30" x2="262.80" y2="166.30" stroke="#464646" stroke-width="1.1" />
<line x1="259.60" y1="135.94" x2="262.80" y2="135.94" stroke="#464646" stroke-width="1.1" />
<line x1="259.60" y1="105.58" x2="262.80" y2="105.58" stroke="#464646" stroke-width="1.1" />
<line x1="259.60" y1="75.22" x2="262.80" y2="75.22" stroke="#464646" stroke-width="1.1" />
<line x1="259.60" y1="44.86" x2="262.80" y2="44.86" stroke="#464646" stroke-width="1.1" />
<line x1="259.60" y1="14.50" x2="262.80" y2="14.50" stroke="#464646" stroke-width="1.1" />
<line x1="261.00" y1="151.12" x2="262.80" y2="151.12" stroke="#464646" stroke-width="1.1" />
<line x1="261.00" y1="120.76" x2="262.80" y2="120.76" stroke="#464646" stroke-width="1.1" />
<line x1="261.00" y1="90.40" x2="262.80" y2="90.40" stroke="#464646" stroke-width="1.1" />
<line x1="261.00" y1="60.04" x2="262.80" y2="60.04" stroke="#464646" stroke-width="1.1" />
<line x1="261.00" y1="29.68" x2="262.80" y2="29.68" stroke="#464646" stroke-width="1.1" />
<text x="257.50" y="170.28" font-size="12.8" text-anchor="end" fill="#111" >22</text>
<text x="257.50" y="139.92" font-size="12.8" text-anchor="end" fill="#111" >23</text>
<text x="257.50" y="109.56" font-size="12.8" text-anchor="end" fill="#111" >24</text>
<text x="257.50" y="79.20" font-size="12.8" text-anchor="end" fill="#111" >25</text>
<text x="257.50" y="48.84" font-size="12.8" text-anchor="end" fill="#111" >26</text>
<text x="257.50" y="18.48" font-size="12.8" text-anchor="end" fill="#111" >27</text>
<line x1="309.60" y1="166.30" x2="309.60" y2="169.50" stroke="#464646" stroke-width="1.1" />
<line x1="403.40" y1="166.30" x2="403.40" y2="169.50" stroke="#464646" stroke-width="1.1" />
<text x="309.60" y="181.80" font-size="13.0" text-anchor="middle" fill="#111" >Control</text>
<text x="403.60" y="181.80" font-size="13.0" text-anchor="middle" fill="#111" >D18</text>
<text x="226.80" y="11.50" font-size="16.5" text-anchor="start" fill="#000" font-weight="bold" >b</text>
<text transform="translate(239.30,90.30) rotate(-90)" x="0" y="0" font-size="13.0" text-anchor="middle" fill="#111">PCE (%)</text>
<rect x="273.00" y="101.40" width="35.80" height="15.10" fill="none" stroke="#8f8f8f" stroke-width="1.2"/>
<line x1="273.00" y1="109.40" x2="308.80" y2="109.40" stroke="#8f8f8f" stroke-width="1.2" />
<line x1="290.90" y1="93.40" x2="290.90" y2="101.40" stroke="#8f8f8f" stroke-width="1.2" />
<line x1="290.90" y1="116.50" x2="290.90" y2="137.80" stroke="#8f8f8f" stroke-width="1.2" />
<line x1="282.20" y1="93.40" x2="299.90" y2="93.40" stroke="#8f8f8f" stroke-width="1.2" />
<line x1="282.20" y1="137.80" x2="299.90" y2="137.80" stroke="#8f8f8f" stroke-width="1.2" />
<rect x="367.20" y="46.80" width="35.20" height="12.80" fill="none" stroke="#f26b70" stroke-width="1.2"/>
<line x1="367.20" y1="52.50" x2="402.40" y2="52.50" stroke="#f26b70" stroke-width="1.2" />
<line x1="384.80" y1="33.30" x2="384.80" y2="46.80" stroke="#f26b70" stroke-width="1.2" />
<line x1="384.80" y1="59.60" x2="384.80" y2="70.80" stroke="#f26b70" stroke-width="1.2" />
<line x1="376.10" y1="33.30" x2="393.70" y2="33.30" stroke="#f26b70" stroke-width="1.2" />
<line x1="376.10" y1="70.80" x2="393.70" y2="70.80" stroke="#f26b70" stroke-width="1.2" />
<circle cx="322.17" cy="100.90" r="1.9" fill="#8a8a8a" stroke="#3e3e3e" stroke-width="0.85"/>
<circle cx="323.49" cy="104.73" r="1.9" fill="#8a8a8a" stroke="#3e3e3e" stroke-width="0.85"/>
<circle cx="311.64" cy="112.15" r="1.9" fill="#8a8a8a" stroke="#3e3e3e" stroke-width="0.85"/>
<circle cx="328.62" cy="94.38" r="1.9" fill="#8a8a8a" stroke="#3e3e3e" stroke-width="0.85"/>
<circle cx="315.36" cy="101.52" r="1.9" fill="#8a8a8a" stroke="#3e3e3e" stroke-width="0.85"/>
<circle cx="320.55" cy="122.87" r="1.9" fill="#8a8a8a" stroke="#3e3e3e" stroke-width="0.85"/>
<circle cx="320.68" cy="118.26" r="1.9" fill="#8a8a8a" stroke="#3e3e3e" stroke-width="0.85"/>
<circle cx="313.51" cy="112.53" r="1.9" fill="#8a8a8a" stroke="#3e3e3e" stroke-width="0.85"/>
<circle cx="329.30" cy="112.41" r="1.9" fill="#8a8a8a" stroke="#3e3e3e" stroke-width="0.85"/>
<circle cx="326.51" cy="109.17" r="1.9" fill="#8a8a8a" stroke="#3e3e3e" stroke-width="0.85"/>
<circle cx="311.61" cy="113.47" r="1.9" fill="#8a8a8a" stroke="#3e3e3e" stroke-width="0.85"/>
<circle cx="323.20" cy="115.99" r="1.9" fill="#8a8a8a" stroke="#3e3e3e" stroke-width="0.85"/>
<circle cx="310.88" cy="102.74" r="1.9" fill="#8a8a8a" stroke="#3e3e3e" stroke-width="0.85"/>
<circle cx="320.60" cy="119.10" r="1.9" fill="#8a8a8a" stroke="#3e3e3e" stroke-width="0.85"/>
<circle cx="329.53" cy="114.85" r="1.9" fill="#8a8a8a" stroke="#3e3e3e" stroke-width="0.85"/>
<circle cx="330.46" cy="114.71" r="1.9" fill="#8a8a8a" stroke="#3e3e3e" stroke-width="0.85"/>
<circle cx="327.82" cy="105.45" r="1.9" fill="#8a8a8a" stroke="#3e3e3e" stroke-width="0.85"/>
<circle cx="330.78" cy="106.89" r="1.9" fill="#8a8a8a" stroke="#3e3e3e" stroke-width="0.85"/>
<circle cx="312.34" cy="119.49" r="1.9" fill="#8a8a8a" stroke="#3e3e3e" stroke-width="0.85"/>
<circle cx="314.97" cy="97.94" r="1.9" fill="#8a8a8a" stroke="#3e3e3e" stroke-width="0.85"/>
<circle cx="319.80" cy="122.00" r="1.9" fill="#8a8a8a" stroke="#3e3e3e" stroke-width="0.85"/>
<circle cx="316.82" cy="112.17" r="1.9" fill="#8a8a8a" stroke="#3e3e3e" stroke-width="0.85"/>
<circle cx="318.69" cy="108.71" r="1.9" fill="#8a8a8a" stroke="#3e3e3e" stroke-width="0.85"/>
<circle cx="323.07" cy="104.18" r="1.9" fill="#8a8a8a" stroke="#3e3e3e" stroke-width="0.85"/>
<circle cx="330.09" cy="110.94" r="1.9" fill="#8a8a8a" stroke="#3e3e3e" stroke-width="0.85"/>
<circle cx="330.64" cy="113.78" r="1.9" fill="#8a8a8a" stroke="#3e3e3e" stroke-width="0.85"/>
<circle cx="332.00" cy="118.84" r="1.9" fill="#8a8a8a" stroke="#3e3e3e" stroke-width="0.85"/>
<circle cx="313.79" cy="113.47" r="1.9" fill="#8a8a8a" stroke="#3e3e3e" stroke-width="0.85"/>
<circle cx="331.42" cy="118.96" r="1.9" fill="#8a8a8a" stroke="#3e3e3e" stroke-width="0.85"/>
<circle cx="322.72" cy="120.24" r="1.9" fill="#8a8a8a" stroke="#3e3e3e" stroke-width="0.85"/>
<circle cx="314.84" cy="114.70" r="1.9" fill="#8a8a8a" stroke="#3e3e3e" stroke-width="0.85"/>
<circle cx="322.82" cy="118.12" r="1.9" fill="#8a8a8a" stroke="#3e3e3e" stroke-width="0.85"/>
<circle cx="311.60" cy="102.26" r="1.9" fill="#8a8a8a" stroke="#3e3e3e" stroke-width="0.85"/>
<circle cx="331.98" cy="118.76" r="1.9" fill="#8a8a8a" stroke="#3e3e3e" stroke-width="0.85"/>
<circle cx="327.81" cy="96.57" r="1.9" fill="#8a8a8a" stroke="#3e3e3e" stroke-width="0.85"/>
<circle cx="313.52" cy="105.90" r="1.9" fill="#8a8a8a" stroke="#3e3e3e" stroke-width="0.85"/>
<circle cx="327.11" cy="102.52" r="1.9" fill="#8a8a8a" stroke="#3e3e3e" stroke-width="0.85"/>
<circle cx="311.17" cy="119.31" r="1.9" fill="#8a8a8a" stroke="#3e3e3e" stroke-width="0.85"/>
<circle cx="311.19" cy="111.82" r="1.9" fill="#8a8a8a" stroke="#3e3e3e" stroke-width="0.85"/>
<circle cx="317.48" cy="114.83" r="1.9" fill="#8a8a8a" stroke="#3e3e3e" stroke-width="0.85"/>
<circle cx="331.77" cy="119.55" r="1.9" fill="#8a8a8a" stroke="#3e3e3e" stroke-width="0.85"/>
<circle cx="332.17" cy="108.66" r="1.9" fill="#8a8a8a" stroke="#3e3e3e" stroke-width="0.85"/>
<circle cx="311.89" cy="102.98" r="1.9" fill="#8a8a8a" stroke="#3e3e3e" stroke-width="0.85"/>
<circle cx="310.89" cy="111.39" r="1.9" fill="#8a8a8a" stroke="#3e3e3e" stroke-width="0.85"/>
<circle cx="319.17" cy="99.72" r="1.9" fill="#8a8a8a" stroke="#3e3e3e" stroke-width="0.85"/>
<circle cx="313.64" cy="111.70" r="1.9" fill="#8a8a8a" stroke="#3e3e3e" stroke-width="0.85"/>
<circle cx="329.29" cy="95.23" r="1.9" fill="#8a8a8a" stroke="#3e3e3e" stroke-width="0.85"/>
<circle cx="331.29" cy="103.10" r="1.9" fill="#8a8a8a" stroke="#3e3e3e" stroke-width="0.85"/>
<circle cx="318.51" cy="120.00" r="1.9" fill="#8a8a8a" stroke="#3e3e3e" stroke-width="0.85"/>
<circle cx="321.64" cy="107.35" r="1.9" fill="#8a8a8a" stroke="#3e3e3e" stroke-width="0.85"/>
<circle cx="323.30" cy="112.67" r="1.9" fill="#8a8a8a" stroke="#3e3e3e" stroke-width="0.85"/>
<circle cx="323.84" cy="110.22" r="1.9" fill="#8a8a8a" stroke="#3e3e3e" stroke-width="0.85"/>
<circle cx="321.35" cy="121.28" r="1.9" fill="#8a8a8a" stroke="#3e3e3e" stroke-width="0.85"/>
<circle cx="326.05" cy="106.50" r="1.9" fill="#8a8a8a" stroke="#3e3e3e" stroke-width="0.85"/>
<circle cx="316.82" cy="100.89" r="1.9" fill="#8a8a8a" stroke="#3e3e3e" stroke-width="0.85"/>
<circle cx="321.66" cy="122.36" r="1.9" fill="#8a8a8a" stroke="#3e3e3e" stroke-width="0.85"/>
<circle cx="310.45" cy="109.90" r="1.9" fill="#8a8a8a" stroke="#3e3e3e" stroke-width="0.85"/>
<circle cx="322.96" cy="106.04" r="1.9" fill="#8a8a8a" stroke="#3e3e3e" stroke-width="0.85"/>
<circle cx="323.75" cy="94.58" r="1.9" fill="#8a8a8a" stroke="#3e3e3e" stroke-width="0.85"/>
<circle cx="311.52" cy="112.33" r="1.9" fill="#8a8a8a" stroke="#3e3e3e" stroke-width="0.85"/>
<circle cx="320.46" cy="112.19" r="1.9" fill="#8a8a8a" stroke="#3e3e3e" stroke-width="0.85"/>
<circle cx="317.96" cy="113.70" r="1.9" fill="#8a8a8a" stroke="#3e3e3e" stroke-width="0.85"/>
<circle cx="316.36" cy="132.12" r="1.9" fill="#8a8a8a" stroke="#3e3e3e" stroke-width="0.85"/>
<circle cx="310.20" cy="124.67" r="1.9" fill="#8a8a8a" stroke="#3e3e3e" stroke-width="0.85"/>
<circle cx="316.08" cy="134.60" r="1.9" fill="#8a8a8a" stroke="#3e3e3e" stroke-width="0.85"/>
<circle cx="312.26" cy="129.02" r="1.9" fill="#8a8a8a" stroke="#3e3e3e" stroke-width="0.85"/>
<circle cx="315.33" cy="127.52" r="1.9" fill="#8a8a8a" stroke="#3e3e3e" stroke-width="0.85"/>
<circle cx="313.28" cy="127.44" r="1.9" fill="#8a8a8a" stroke="#3e3e3e" stroke-width="0.85"/>
<circle cx="313.32" cy="130.55" r="1.9" fill="#8a8a8a" stroke="#3e3e3e" stroke-width="0.85"/>
<circle cx="312.70" cy="128.15" r="1.9" fill="#8a8a8a" stroke="#3e3e3e" stroke-width="0.85"/>
<circle cx="311.93" cy="139.80" r="1.9" fill="#8a8a8a" stroke="#3e3e3e" stroke-width="0.85"/>
<circle cx="310.07" cy="141.50" r="1.9" fill="#8a8a8a" stroke="#3e3e3e" stroke-width="0.85"/>
<circle cx="311.42" cy="143.20" r="1.9" fill="#8a8a8a" stroke="#3e3e3e" stroke-width="0.85"/>
<circle cx="311.84" cy="144.60" r="1.9" fill="#8a8a8a" stroke="#3e3e3e" stroke-width="0.85"/>
<polyline points="310.38,71.10 310.39,71.75 310.41,72.40 310.43,73.05 310.46,73.70 310.49,74.35 310.53,75.00 310.57,75.65 310.62,76.30 310.67,76.95 310.73,77.60 310.81,78.25 310.89,78.90 310.98,79.55 311.09,80.20 311.21,80.85 311.34,81.50 311.50,82.15 311.67,82.80 311.85,83.45 312.06,84.10 312.30,84.75 312.55,85.40 312.83,86.05 313.13,86.70 313.47,87.35 313.83,88.00 314.21,88.65 314.63,89.30 315.08,89.95 315.56,90.60 316.07,91.25 316.60,91.90 317.17,92.55 317.76,93.20 318.38,93.85 319.02,94.50 319.69,95.15 320.38,95.80 321.08,96.45 321.79,97.10 322.51,97.75 323.24,98.40 323.97,99.05 324.70,99.70 325.42,100.35 326.12,101.00 326.81,101.65 327.47,102.30 328.10,102.95 328.70,103.60 329.26,104.25 329.78,104.90 330.25,105.55 330.67,106.20 331.03,106.85 331.33,107.50 331.57,108.15 331.74,108.80 331.86,109.45 331.90,110.10 331.88,110.75 331.79,111.40 331.63,112.05 331.41,112.70 331.13,113.35 330.78,114.00 330.38,114.65 329.93,115.30 329.43,115.95 328.88,116.60 328.29,117.25 327.67,117.90 327.01,118.55 326.34,119.20 325.64,119.85 324.92,120.50 324.20,121.15 323.47,121.80 322.74,122.45 322.01,123.10 321.30,123.75 320.59,124.40 319.90,125.05 319.23,125.70 318.58,126.35 317.95,127.00 317.35,127.65 316.77,128.30 316.23,128.95 315.71,129.60 315.22,130.25 314.77,130.90 314.34,131.55 313.94,132.20 313.57,132.85 313.23,133.50 312.92,134.15 312.63,134.80 312.37,135.45 312.13,136.10 311.92,136.75 311.72,137.40 311.55,138.05 311.39,138.70 311.25,139.35 311.12,140.00 311.01,140.65 310.92,141.30 310.83,141.95 310.75,142.60 310.69,143.25 310.63,143.90 310.58,144.55 310.54,145.20 310.50,145.85 310.47,146.50 310.44,147.15 310.42,147.80 310.40,148.45 310.38,149.10" fill="none" stroke="#555" stroke-width="1.1" stroke-linejoin="round" />
<circle cx="407.90" cy="41.98" r="1.9" fill="#fcdcdd" stroke="#ee3b43" stroke-width="0.8"/>
<circle cx="408.40" cy="42.24" r="1.9" fill="#fcdcdd" stroke="#ee3b43" stroke-width="0.8"/>
<circle cx="405.93" cy="50.78" r="1.9" fill="#fcdcdd" stroke="#ee3b43" stroke-width="0.8"/>
<circle cx="414.87" cy="56.37" r="1.9" fill="#fcdcdd" stroke="#ee3b43" stroke-width="0.8"/>
<circle cx="412.51" cy="55.38" r="1.9" fill="#fcdcdd" stroke="#ee3b43" stroke-width="0.8"/>
<circle cx="409.29" cy="49.57" r="1.9" fill="#fcdcdd" stroke="#ee3b43" stroke-width="0.8"/>
<circle cx="405.62" cy="41.31" r="1.9" fill="#fcdcdd" stroke="#ee3b43" stroke-width="0.8"/>
<circle cx="408.64" cy="48.99" r="1.9" fill="#fcdcdd" stroke="#ee3b43" stroke-width="0.8"/>
<circle cx="417.96" cy="48.51" r="1.9" fill="#fcdcdd" stroke="#ee3b43" stroke-width="0.8"/>
<circle cx="405.96" cy="70.61" r="1.9" fill="#fcdcdd" stroke="#ee3b43" stroke-width="0.8"/>
<circle cx="416.20" cy="53.36" r="1.9" fill="#fcdcdd" stroke="#ee3b43" stroke-width="0.8"/>
<circle cx="406.97" cy="47.56" r="1.9" fill="#fcdcdd" stroke="#ee3b43" stroke-width="0.8"/>
<circle cx="406.10" cy="69.21" r="1.9" fill="#fcdcdd" stroke="#ee3b43" stroke-width="0.8"/>
<circle cx="408.87" cy="52.19" r="1.9" fill="#fcdcdd" stroke="#ee3b43" stroke-width="0.8"/>
<circle cx="406.32" cy="69.14" r="1.9" fill="#fcdcdd" stroke="#ee3b43" stroke-width="0.8"/>
<circle cx="423.72" cy="50.10" r="1.9" fill="#fcdcdd" stroke="#ee3b43" stroke-width="0.8"/>
<circle cx="406.08" cy="39.59" r="1.9" fill="#fcdcdd" stroke="#ee3b43" stroke-width="0.8"/>
<circle cx="421.87" cy="48.88" r="1.9" fill="#fcdcdd" stroke="#ee3b43" stroke-width="0.8"/>
<circle cx="410.61" cy="43.93" r="1.9" fill="#fcdcdd" stroke="#ee3b43" stroke-width="0.8"/>
<circle cx="407.94" cy="49.57" r="1.9" fill="#fcdcdd" stroke="#ee3b43" stroke-width="0.8"/>
<circle cx="406.72" cy="59.67" r="1.9" fill="#fcdcdd" stroke="#ee3b43" stroke-width="0.8"/>
<circle cx="412.27" cy="58.60" r="1.9" fill="#fcdcdd" stroke="#ee3b43" stroke-width="0.8"/>
<circle cx="405.62" cy="54.86" r="1.9" fill="#fcdcdd" stroke="#ee3b43" stroke-width="0.8"/>
<circle cx="410.02" cy="48.62" r="1.9" fill="#fcdcdd" stroke="#ee3b43" stroke-width="0.8"/>
<circle cx="412.28" cy="45.06" r="1.9" fill="#fcdcdd" stroke="#ee3b43" stroke-width="0.8"/>
<circle cx="408.79" cy="44.65" r="1.9" fill="#fcdcdd" stroke="#ee3b43" stroke-width="0.8"/>
<circle cx="418.14" cy="52.89" r="1.9" fill="#fcdcdd" stroke="#ee3b43" stroke-width="0.8"/>
<circle cx="405.64" cy="73.63" r="1.9" fill="#fcdcdd" stroke="#ee3b43" stroke-width="0.8"/>
<circle cx="412.49" cy="60.10" r="1.9" fill="#fcdcdd" stroke="#ee3b43" stroke-width="0.8"/>
<circle cx="419.84" cy="52.91" r="1.9" fill="#fcdcdd" stroke="#ee3b43" stroke-width="0.8"/>
<circle cx="411.66" cy="50.66" r="1.9" fill="#fcdcdd" stroke="#ee3b43" stroke-width="0.8"/>
<circle cx="406.17" cy="50.99" r="1.9" fill="#fcdcdd" stroke="#ee3b43" stroke-width="0.8"/>
<circle cx="408.30" cy="51.46" r="1.9" fill="#fcdcdd" stroke="#ee3b43" stroke-width="0.8"/>
<circle cx="415.58" cy="57.40" r="1.9" fill="#fcdcdd" stroke="#ee3b43" stroke-width="0.8"/>
<circle cx="423.22" cy="50.44" r="1.9" fill="#fcdcdd" stroke="#ee3b43" stroke-width="0.8"/>
<circle cx="408.89" cy="59.30" r="1.9" fill="#fcdcdd" stroke="#ee3b43" stroke-width="0.8"/>
<circle cx="414.16" cy="49.22" r="1.9" fill="#fcdcdd" stroke="#ee3b43" stroke-width="0.8"/>
<circle cx="419.13" cy="52.65" r="1.9" fill="#fcdcdd" stroke="#ee3b43" stroke-width="0.8"/>
<circle cx="417.72" cy="47.99" r="1.9" fill="#fcdcdd" stroke="#ee3b43" stroke-width="0.8"/>
<circle cx="422.82" cy="53.48" r="1.9" fill="#fcdcdd" stroke="#ee3b43" stroke-width="0.8"/>
<circle cx="406.81" cy="50.21" r="1.9" fill="#fcdcdd" stroke="#ee3b43" stroke-width="0.8"/>
<circle cx="414.71" cy="45.70" r="1.9" fill="#fcdcdd" stroke="#ee3b43" stroke-width="0.8"/>
<circle cx="407.62" cy="61.83" r="1.9" fill="#fcdcdd" stroke="#ee3b43" stroke-width="0.8"/>
<circle cx="407.56" cy="61.48" r="1.9" fill="#fcdcdd" stroke="#ee3b43" stroke-width="0.8"/>
<circle cx="409.25" cy="47.11" r="1.9" fill="#fcdcdd" stroke="#ee3b43" stroke-width="0.8"/>
<circle cx="407.65" cy="53.51" r="1.9" fill="#fcdcdd" stroke="#ee3b43" stroke-width="0.8"/>
<circle cx="416.58" cy="55.08" r="1.9" fill="#fcdcdd" stroke="#ee3b43" stroke-width="0.8"/>
<circle cx="406.04" cy="57.04" r="1.9" fill="#fcdcdd" stroke="#ee3b43" stroke-width="0.8"/>
<circle cx="424.48" cy="51.90" r="1.9" fill="#fcdcdd" stroke="#ee3b43" stroke-width="0.8"/>
<circle cx="406.52" cy="43.52" r="1.9" fill="#fcdcdd" stroke="#ee3b43" stroke-width="0.8"/>
<circle cx="416.05" cy="50.19" r="1.9" fill="#fcdcdd" stroke="#ee3b43" stroke-width="0.8"/>
<circle cx="411.27" cy="56.32" r="1.9" fill="#fcdcdd" stroke="#ee3b43" stroke-width="0.8"/>
<circle cx="405.79" cy="43.68" r="1.9" fill="#fcdcdd" stroke="#ee3b43" stroke-width="0.8"/>
<circle cx="413.61" cy="53.89" r="1.9" fill="#fcdcdd" stroke="#ee3b43" stroke-width="0.8"/>
<circle cx="421.36" cy="50.90" r="1.9" fill="#fcdcdd" stroke="#ee3b43" stroke-width="0.8"/>
<circle cx="412.77" cy="61.40" r="1.9" fill="#fcdcdd" stroke="#ee3b43" stroke-width="0.8"/>
<circle cx="409.49" cy="62.08" r="1.9" fill="#fcdcdd" stroke="#ee3b43" stroke-width="0.8"/>
<circle cx="412.78" cy="52.95" r="1.9" fill="#fcdcdd" stroke="#ee3b43" stroke-width="0.8"/>
<circle cx="407.39" cy="48.08" r="1.9" fill="#fcdcdd" stroke="#ee3b43" stroke-width="0.8"/>
<circle cx="411.94" cy="55.98" r="1.9" fill="#fcdcdd" stroke="#ee3b43" stroke-width="0.8"/>
<circle cx="416.74" cy="46.12" r="1.9" fill="#fcdcdd" stroke="#ee3b43" stroke-width="0.8"/>
<circle cx="406.81" cy="65.91" r="1.9" fill="#fcdcdd" stroke="#ee3b43" stroke-width="0.8"/>
<circle cx="406.89" cy="38.29" r="1.9" fill="#fcdcdd" stroke="#ee3b43" stroke-width="0.8"/>
<circle cx="410.12" cy="53.02" r="1.9" fill="#fcdcdd" stroke="#ee3b43" stroke-width="0.8"/>
<circle cx="410.78" cy="48.06" r="1.9" fill="#fcdcdd" stroke="#ee3b43" stroke-width="0.8"/>
<circle cx="422.62" cy="54.72" r="1.9" fill="#fcdcdd" stroke="#ee3b43" stroke-width="0.8"/>
<circle cx="407.69" cy="63.56" r="1.9" fill="#fcdcdd" stroke="#ee3b43" stroke-width="0.8"/>
<circle cx="410.69" cy="49.02" r="1.9" fill="#fcdcdd" stroke="#ee3b43" stroke-width="0.8"/>
<circle cx="415.59" cy="57.74" r="1.9" fill="#fcdcdd" stroke="#ee3b43" stroke-width="0.8"/>
<circle cx="419.39" cy="55.60" r="1.9" fill="#fcdcdd" stroke="#ee3b43" stroke-width="0.8"/>
<circle cx="407.84" cy="42.39" r="1.9" fill="#fcdcdd" stroke="#ee3b43" stroke-width="0.8"/>
<circle cx="408.77" cy="63.42" r="1.9" fill="#fcdcdd" stroke="#ee3b43" stroke-width="0.8"/>
<circle cx="407.89" cy="44.62" r="1.9" fill="#fcdcdd" stroke="#ee3b43" stroke-width="0.8"/>
<circle cx="407.61" cy="39.69" r="1.9" fill="#fcdcdd" stroke="#ee3b43" stroke-width="0.8"/>
<circle cx="419.64" cy="50.11" r="1.9" fill="#fcdcdd" stroke="#ee3b43" stroke-width="0.8"/>
<circle cx="410.36" cy="61.62" r="1.9" fill="#fcdcdd" stroke="#ee3b43" stroke-width="0.8"/>
<circle cx="412.87" cy="46.42" r="1.9" fill="#fcdcdd" stroke="#ee3b43" stroke-width="0.8"/>
<circle cx="407.21" cy="71.73" r="1.9" fill="#fcdcdd" stroke="#ee3b43" stroke-width="0.8"/>
<circle cx="410.20" cy="33.20" r="1.9" fill="#fcdcdd" stroke="#ee3b43" stroke-width="0.8"/>
<circle cx="405.80" cy="35.00" r="1.9" fill="#fcdcdd" stroke="#ee3b43" stroke-width="0.8"/>
<circle cx="407.50" cy="36.50" r="1.9" fill="#fcdcdd" stroke="#ee3b43" stroke-width="0.8"/>
<circle cx="423.50" cy="46.50" r="1.9" fill="#fcdcdd" stroke="#ee3b43" stroke-width="0.8"/>
<circle cx="421.80" cy="48.00" r="1.9" fill="#fcdcdd" stroke="#ee3b43" stroke-width="0.8"/>
<circle cx="425.00" cy="48.80" r="1.9" fill="#fcdcdd" stroke="#ee3b43" stroke-width="0.8"/>
<circle cx="420.20" cy="45.20" r="1.9" fill="#fcdcdd" stroke="#ee3b43" stroke-width="0.8"/>
<polyline points="404.60,29.70 404.62,30.12 404.65,30.54 404.68,30.96 404.72,31.39 404.77,31.81 404.83,32.23 404.90,32.65 404.98,33.07 405.08,33.49 405.19,33.92 405.33,34.34 405.48,34.76 405.65,35.18 405.86,35.60 406.08,36.02 406.34,36.45 406.64,36.87 406.96,37.29 407.33,37.71 407.73,38.13 408.18,38.55 408.67,38.98 409.20,39.40 409.78,39.82 410.40,40.24 411.06,40.66 411.77,41.08 412.51,41.51 413.30,41.93 414.12,42.35 414.96,42.77 415.83,43.19 416.72,43.61 417.62,44.04 418.52,44.46 419.41,44.88 420.29,45.30 421.15,45.72 421.98,46.14 422.77,46.57 423.51,46.99 424.18,47.41 424.80,47.83 425.33,48.25 425.79,48.67 426.16,49.10 426.43,49.52 426.61,49.94 426.69,50.36 426.69,50.78 426.64,51.20 426.54,51.63 426.41,52.05 426.23,52.47 426.01,52.89 425.75,53.31 425.45,53.73 425.11,54.16 424.75,54.58 424.34,55.00 423.91,55.42 423.45,55.84 422.97,56.27 422.46,56.69 421.93,57.11 421.38,57.53 420.82,57.95 420.25,58.37 419.66,58.79 419.07,59.22 418.48,59.64 417.88,60.06 417.28,60.48 416.69,60.90 416.10,61.32 415.52,61.75 414.94,62.17 414.38,62.59 413.83,63.01 413.29,63.43 412.76,63.85 412.26,64.28 411.77,64.70 411.29,65.12 410.84,65.54 410.40,65.96 409.99,66.38 409.59,66.81 409.21,67.23 408.85,67.65 408.51,68.07 408.19,68.49 407.89,68.91 407.61,69.34 407.34,69.76 407.10,70.18 406.87,70.60 406.65,71.02 406.45,71.44 406.27,71.87 406.10,72.29 405.94,72.71 405.80,73.13 405.67,73.55 405.55,73.97 405.44,74.40 405.34,74.82 405.25,75.24 405.17,75.66 405.09,76.08 405.02,76.50 404.96,76.93 404.91,77.35 404.86,77.77 404.82,78.19 404.78,78.61 404.74,79.03 404.71,79.46 404.69,79.88 404.66,80.30" fill="none" stroke="#ee3b43" stroke-width="1.1" stroke-linejoin="round" />
<line x1="46.80" y1="233.21" x2="667.70" y2="233.21" stroke="#222" stroke-width="1.0" stroke-dasharray="2,1.33"/>
<clipPath id="cd"><rect x="46.8" y="209.3" width="624.9000000000001" height="131.5"/></clipPath><g clip-path="url(#cd)">
<polyline points="46.80,221.62 47.82,221.46 48.85,221.60 49.87,222.38 50.89,222.94 51.91,222.89 52.94,223.02 53.96,223.11 54.98,224.07 56.00,224.36 57.03,224.03 58.05,224.37 59.07,224.32 60.09,224.76 61.12,225.35 62.14,225.67 63.16,225.09 64.18,226.21 65.21,226.63 66.23,227.00 67.25,226.90 68.27,227.16 69.30,227.47 70.32,227.55 71.34,227.61 72.36,227.64 73.39,227.67 74.41,228.10 75.43,228.85 76.45,228.26 77.48,229.06 78.50,228.84 79.52,229.39 80.54,229.10 81.57,229.49 82.59,229.35 83.61,228.59 84.63,229.75 85.66,229.64 86.68,230.44 87.70,230.29 88.73,230.17 89.75,230.55 90.77,230.57 91.79,230.80 92.82,231.29 93.84,230.98 94.86,231.55 95.88,230.91 96.91,231.77 97.93,231.58 98.95,231.94 99.97,231.81 101.00,232.43 102.02,232.11 103.04,232.60 104.06,232.35 105.09,232.70 106.11,233.00 107.13,233.43 108.15,233.13 109.18,233.37 110.20,233.18 111.22,233.94 112.24,233.82 113.27,233.99 114.29,234.22 115.31,234.40 116.33,234.57 117.36,234.97 118.38,235.27 119.40,235.25 120.42,235.12 121.45,235.01 122.47,235.34 123.49,235.48 124.51,235.73 125.54,235.91 126.56,236.17 127.58,236.10 128.61,235.91 129.63,236.65 130.65,236.87 131.67,236.19 132.70,236.81 133.72,236.70 134.74,236.84 135.76,237.55 136.79,236.60 137.81,236.90 138.83,237.49 139.85,237.43 140.88,237.73 141.90,238.14 142.92,238.02 143.94,237.98 144.97,237.87 145.99,238.10 147.01,238.40 148.03,238.13 149.06,238.87 150.08,238.51 151.10,238.53 152.12,239.08 153.15,239.73 154.17,239.66 155.19,239.52 156.21,239.63 157.24,239.53 158.26,240.49 159.28,240.39 160.30,240.40 161.33,240.84 162.35,241.70 163.37,240.95 164.39,240.70 165.42,241.29 166.44,242.07 167.46,242.12 168.49,242.13 169.51,241.65 170.53,242.41 171.55,242.76 172.58,242.53 173.60,243.22 174.62,242.84 175.64,243.80 176.67,243.89 177.69,243.58 178.71,243.41 179.73,243.69 180.76,243.84 181.78,244.52 182.80,244.23 183.82,244.25 184.85,244.27 185.87,243.98 186.89,244.31 187.91,244.02 188.94,244.27 189.96,244.44 190.98,244.35 192.00,244.31 193.03,244.27 194.05,244.77 195.07,244.79 196.09,245.23 197.12,244.45 198.14,244.59 199.16,245.18 200.18,245.37 201.21,245.69 202.23,245.37 203.25,245.46 204.27,244.97 205.30,245.65 206.32,246.06 207.34,246.66 208.37,245.60 209.39,246.07 210.41,246.71 211.43,246.27 212.46,246.91 213.48,245.49 214.50,246.29 215.52,246.55 216.55,246.88 217.57,247.60 218.59,247.13 219.61,247.69 220.64,247.18" fill="none" stroke="#5c5c5c" stroke-width="3.6" stroke-linejoin="round" />
<circle cx="46.80" cy="221.62" r="1.9" fill="#707070" stroke="#4c4c4c" stroke-width="0.6"/>
<circle cx="47.82" cy="221.46" r="1.9" fill="#707070" stroke="#4c4c4c" stroke-width="0.6"/>
<circle cx="48.85" cy="221.60" r="1.9" fill="#707070" stroke="#4c4c4c" stroke-width="0.6"/>
<circle cx="49.87" cy="222.38" r="1.9" fill="#707070" stroke="#4c4c4c" stroke-width="0.6"/>
<circle cx="50.89" cy="222.94" r="1.9" fill="#707070" stroke="#4c4c4c" stroke-width="0.6"/>
<circle cx="51.91" cy="222.89" r="1.9" fill="#707070" stroke="#4c4c4c" stroke-width="0.6"/>
<circle cx="52.94" cy="223.02" r="1.9" fill="#707070" stroke="#4c4c4c" stroke-width="0.6"/>
<circle cx="53.96" cy="223.11" r="1.9" fill="#707070" stroke="#4c4c4c" stroke-width="0.6"/>
<circle cx="54.98" cy="224.07" r="1.9" fill="#707070" stroke="#4c4c4c" stroke-width="0.6"/>
<circle cx="56.00" cy="224.36" r="1.9" fill="#707070" stroke="#4c4c4c" stroke-width="0.6"/>
<circle cx="57.03" cy="224.03" r="1.9" fill="#707070" stroke="#4c4c4c" stroke-width="0.6"/>
<circle cx="58.05" cy="224.37" r="1.9" fill="#707070" stroke="#4c4c4c" stroke-width="0.6"/>
<circle cx="59.07" cy="224.32" r="1.9" fill="#707070" stroke="#4c4c4c" stroke-width="0.6"/>
<circle cx="60.09" cy="224.76" r="1.9" fill="#707070" stroke="#4c4c4c" stroke-width="0.6"/>
<circle cx="61.12" cy="225.35" r="1.9" fill="#707070" stroke="#4c4c4c" stroke-width="0.6"/>
<circle cx="62.14" cy="225.67" r="1.9" fill="#707070" stroke="#4c4c4c" stroke-width="0.6"/>
<circle cx="63.16" cy="225.09" r="1.9" fill="#707070" stroke="#4c4c4c" stroke-width="0.6"/>
<circle cx="64.18" cy="226.21" r="1.9" fill="#707070" stroke="#4c4c4c" stroke-width="0.6"/>
<circle cx="65.21" cy="226.63" r="1.9" fill="#707070" stroke="#4c4c4c" stroke-width="0.6"/>
<circle cx="66.23" cy="227.00" r="1.9" fill="#707070" stroke="#4c4c4c" stroke-width="0.6"/>
<circle cx="67.25" cy="226.90" r="1.9" fill="#707070" stroke="#4c4c4c" stroke-width="0.6"/>
<circle cx="68.27" cy="227.16" r="1.9" fill="#707070" stroke="#4c4c4c" stroke-width="0.6"/>
<circle cx="69.30" cy="227.47" r="1.9" fill="#707070" stroke="#4c4c4c" stroke-width="0.6"/>
<circle cx="70.32" cy="227.55" r="1.9" fill="#707070" stroke="#4c4c4c" stroke-width="0.6"/>
<circle cx="71.34" cy="227.61" r="1.9" fill="#707070" stroke="#4c4c4c" stroke-width="0.6"/>
<circle cx="72.36" cy="227.64" r="1.9" fill="#707070" stroke="#4c4c4c" stroke-width="0.6"/>
<circle cx="73.39" cy="227.67" r="1.9" fill="#707070" stroke="#4c4c4c" stroke-width="0.6"/>
<circle cx="74.41" cy="228.10" r="1.9" fill="#707070" stroke="#4c4c4c" stroke-width="0.6"/>
<circle cx="75.43" cy="228.85" r="1.9" fill="#707070" stroke="#4c4c4c" stroke-width="0.6"/>
<circle cx="76.45" cy="228.26" r="1.9" fill="#707070" stroke="#4c4c4c" stroke-width="0.6"/>
<circle cx="77.48" cy="229.06" r="1.9" fill="#707070" stroke="#4c4c4c" stroke-width="0.6"/>
<circle cx="78.50" cy="228.84" r="1.9" fill="#707070" stroke="#4c4c4c" stroke-width="0.6"/>
<circle cx="79.52" cy="229.39" r="1.9" fill="#707070" stroke="#4c4c4c" stroke-width="0.6"/>
<circle cx="80.54" cy="229.10" r="1.9" fill="#707070" stroke="#4c4c4c" stroke-width="0.6"/>
<circle cx="81.57" cy="229.49" r="1.9" fill="#707070" stroke="#4c4c4c" stroke-width="0.6"/>
<circle cx="82.59" cy="229.35" r="1.9" fill="#707070" stroke="#4c4c4c" stroke-width="0.6"/>
<circle cx="83.61" cy="228.59" r="1.9" fill="#707070" stroke="#4c4c4c" stroke-width="0.6"/>
<circle cx="84.63" cy="229.75" r="1.9" fill="#707070" stroke="#4c4c4c" stroke-width="0.6"/>
<circle cx="85.66" cy="229.64" r="1.9" fill="#707070" stroke="#4c4c4c" stroke-width="0.6"/>
<circle cx="86.68" cy="230.44" r="1.9" fill="#707070" stroke="#4c4c4c" stroke-width="0.6"/>
<circle cx="87.70" cy="230.29" r="1.9" fill="#707070" stroke="#4c4c4c" stroke-width="0.6"/>
<circle cx="88.73" cy="230.17" r="1.9" fill="#707070" stroke="#4c4c4c" stroke-width="0.6"/>
<circle cx="89.75" cy="230.55" r="1.9" fill="#707070" stroke="#4c4c4c" stroke-width="0.6"/>
<circle cx="90.77" cy="230.57" r="1.9" fill="#707070" stroke="#4c4c4c" stroke-width="0.6"/>
<circle cx="91.79" cy="230.80" r="1.9" fill="#707070" stroke="#4c4c4c" stroke-width="0.6"/>
<circle cx="92.82" cy="231.29" r="1.9" fill="#707070" stroke="#4c4c4c" stroke-width="0.6"/>
<circle cx="93.84" cy="230.98" r="1.9" fill="#707070" stroke="#4c4c4c" stroke-width="0.6"/>
<circle cx="94.86" cy="231.55" r="1.9" fill="#707070" stroke="#4c4c4c" stroke-width="0.6"/>
<circle cx="95.88" cy="230.91" r="1.9" fill="#707070" stroke="#4c4c4c" stroke-width="0.6"/>
<circle cx="96.91" cy="231.77" r="1.9" fill="#707070" stroke="#4c4c4c" stroke-width="0.6"/>
<circle cx="97.93" cy="231.58" r="1.9" fill="#707070" stroke="#4c4c4c" stroke-width="0.6"/>
<circle cx="98.95" cy="231.94" r="1.9" fill="#707070" stroke="#4c4c4c" stroke-width="0.6"/>
<circle cx="99.97" cy="231.81" r="1.9" fill="#707070" stroke="#4c4c4c" stroke-width="0.6"/>
<circle cx="101.00" cy="232.43" r="1.9" fill="#707070" stroke="#4c4c4c" stroke-width="0.6"/>
<circle cx="102.02" cy="232.11" r="1.9" fill="#707070" stroke="#4c4c4c" stroke-width="0.6"/>
<circle cx="103.04" cy="232.60" r="1.9" fill="#707070" stroke="#4c4c4c" stroke-width="0.6"/>
<circle cx="104.06" cy="232.35" r="1.9" fill="#707070" stroke="#4c4c4c" stroke-width="0.6"/>
<circle cx="105.09" cy="232.70" r="1.9" fill="#707070" stroke="#4c4c4c" stroke-width="0.6"/>
<circle cx="106.11" cy="233.00" r="1.9" fill="#707070" stroke="#4c4c4c" stroke-width="0.6"/>
<circle cx="107.13" cy="233.43" r="1.9" fill="#707070" stroke="#4c4c4c" stroke-width="0.6"/>
<circle cx="108.15" cy="233.13" r="1.9" fill="#707070" stroke="#4c4c4c" stroke-width="0.6"/>
<circle cx="109.18" cy="233.37" r="1.9" fill="#707070" stroke="#4c4c4c" stroke-width="0.6"/>
<circle cx="110.20" cy="233.18" r="1.9" fill="#707070" stroke="#4c4c4c" stroke-width="0.6"/>
<circle cx="111.22" cy="233.94" r="1.9" fill="#707070" stroke="#4c4c4c" stroke-width="0.6"/>
<circle cx="112.24" cy="233.82" r="1.9" fill="#707070" stroke="#4c4c4c" stroke-width="0.6"/>
<circle cx="113.27" cy="233.99" r="1.9" fill="#707070" stroke="#4c4c4c" stroke-width="0.6"/>
<circle cx="114.29" cy="234.22" r="1.9" fill="#707070" stroke="#4c4c4c" stroke-width="0.6"/>
<circle cx="115.31" cy="234.40" r="1.9" fill="#707070" stroke="#4c4c4c" stroke-width="0.6"/>
<circle cx="116.33" cy="234.57" r="1.9" fill="#707070" stroke="#4c4c4c" stroke-width="0.6"/>
<circle cx="117.36" cy="234.97" r="1.9" fill="#707070" stroke="#4c4c4c" stroke-width="0.6"/>
<circle cx="118.38" cy="235.27" r="1.9" fill="#707070" stroke="#4c4c4c" stroke-width="0.6"/>
<circle cx="119.40" cy="235.25" r="1.9" fill="#707070" stroke="#4c4c4c" stroke-width="0.6"/>
<circle cx="120.42" cy="235.12" r="1.9" fill="#707070" stroke="#4c4c4c" stroke-width="0.6"/>
<circle cx="121.45" cy="235.01" r="1.9" fill="#707070" stroke="#4c4c4c" stroke-width="0.6"/>
<circle cx="122.47" cy="235.34" r="1.9" fill="#707070" stroke="#4c4c4c" stroke-width="0.6"/>
<circle cx="123.49" cy="235.48" r="1.9" fill="#707070" stroke="#4c4c4c" stroke-width="0.6"/>
<circle cx="124.51" cy="235.73" r="1.9" fill="#707070" stroke="#4c4c4c" stroke-width="0.6"/>
<circle cx="125.54" cy="235.91" r="1.9" fill="#707070" stroke="#4c4c4c" stroke-width="0.6"/>
<circle cx="126.56" cy="236.17" r="1.9" fill="#707070" stroke="#4c4c4c" stroke-width="0.6"/>
<circle cx="127.58" cy="236.10" r="1.9" fill="#707070" stroke="#4c4c4c" stroke-width="0.6"/>
<circle cx="128.61" cy="235.91" r="1.9" fill="#707070" stroke="#4c4c4c" stroke-width="0.6"/>
<circle cx="129.63" cy="236.65" r="1.9" fill="#707070" stroke="#4c4c4c" stroke-width="0.6"/>
<circle cx="130.65" cy="236.87" r="1.9" fill="#707070" stroke="#4c4c4c" stroke-width="0.6"/>
<circle cx="131.67" cy="236.19" r="1.9" fill="#707070" stroke="#4c4c4c" stroke-width="0.6"/>
<circle cx="132.70" cy="236.81" r="1.9" fill="#707070" stroke="#4c4c4c" stroke-width="0.6"/>
<circle cx="133.72" cy="236.70" r="1.9" fill="#707070" stroke="#4c4c4c" stroke-width="0.6"/>
<circle cx="134.74" cy="236.84" r="1.9" fill="#707070" stroke="#4c4c4c" stroke-width="0.6"/>
<circle cx="135.76" cy="237.55" r="1.9" fill="#707070" stroke="#4c4c4c" stroke-width="0.6"/>
<circle cx="136.79" cy="236.60" r="1.9" fill="#707070" stroke="#4c4c4c" stroke-width="0.6"/>
<circle cx="137.81" cy="236.90" r="1.9" fill="#707070" stroke="#4c4c4c" stroke-width="0.6"/>
<circle cx="138.83" cy="237.49" r="1.9" fill="#707070" stroke="#4c4c4c" stroke-width="0.6"/>
<circle cx="139.85" cy="237.43" r="1.9" fill="#707070" stroke="#4c4c4c" stroke-width="0.6"/>
<circle cx="140.88" cy="237.73" r="1.9" fill="#707070" stroke="#4c4c4c" stroke-width="0.6"/>
<circle cx="141.90" cy="238.14" r="1.9" fill="#707070" stroke="#4c4c4c" stroke-width="0.6"/>
<circle cx="142.92" cy="238.02" r="1.9" fill="#707070" stroke="#4c4c4c" stroke-width="0.6"/>
<circle cx="143.94" cy="237.98" r="1.9" fill="#707070" stroke="#4c4c4c" stroke-width="0.6"/>
<circle cx="144.97" cy="237.87" r="1.9" fill="#707070" stroke="#4c4c4c" stroke-width="0.6"/>
<circle cx="145.99" cy="238.10" r="1.9" fill="#707070" stroke="#4c4c4c" stroke-width="0.6"/>
<circle cx="147.01" cy="238.40" r="1.9" fill="#707070" stroke="#4c4c4c" stroke-width="0.6"/>
<circle cx="148.03" cy="238.13" r="1.9" fill="#707070" stroke="#4c4c4c" stroke-width="0.6"/>
<circle cx="149.06" cy="238.87" r="1.9" fill="#707070" stroke="#4c4c4c" stroke-width="0.6"/>
<circle cx="150.08" cy="238.51" r="1.9" fill="#707070" stroke="#4c4c4c" stroke-width="0.6"/>
<circle cx="151.10" cy="238.53" r="1.9" fill="#707070" stroke="#4c4c4c" stroke-width="0.6"/>
<circle cx="152.12" cy="239.08" r="1.9" fill="#707070" stroke="#4c4c4c" stroke-width="0.6"/>
<circle cx="153.15" cy="239.73" r="1.9" fill="#707070" stroke="#4c4c4c" stroke-width="0.6"/>
<circle cx="154.17" cy="239.66" r="1.9" fill="#707070" stroke="#4c4c4c" stroke-width="0.6"/>
<circle cx="155.19" cy="239.52" r="1.9" fill="#707070" stroke="#4c4c4c" stroke-width="0.6"/>
<circle cx="156.21" cy="239.63" r="1.9" fill="#707070" stroke="#4c4c4c" stroke-width="0.6"/>
<circle cx="157.24" cy="239.53" r="1.9" fill="#707070" stroke="#4c4c4c" stroke-width="0.6"/>
<circle cx="158.26" cy="240.49" r="1.9" fill="#707070" stroke="#4c4c4c" stroke-width="0.6"/>
<circle cx="159.28" cy="240.39" r="1.9" fill="#707070" stroke="#4c4c4c" stroke-width="0.6"/>
<circle cx="160.30" cy="240.40" r="1.9" fill="#707070" stroke="#4c4c4c" stroke-width="0.6"/>
<circle cx="161.33" cy="240.84" r="1.9" fill="#707070" stroke="#4c4c4c" stroke-width="0.6"/>
<circle cx="162.35" cy="241.70" r="1.9" fill="#707070" stroke="#4c4c4c" stroke-width="0.6"/>
<circle cx="163.37" cy="240.95" r="1.9" fill="#707070" stroke="#4c4c4c" stroke-width="0.6"/>
<circle cx="164.39" cy="240.70" r="1.9" fill="#707070" stroke="#4c4c4c" stroke-width="0.6"/>
<circle cx="165.42" cy="241.29" r="1.9" fill="#707070" stroke="#4c4c4c" stroke-width="0.6"/>
<circle cx="166.44" cy="242.07" r="1.9" fill="#707070" stroke="#4c4c4c" stroke-width="0.6"/>
<circle cx="167.46" cy="242.12" r="1.9" fill="#707070" stroke="#4c4c4c" stroke-width="0.6"/>
<circle cx="168.49" cy="242.13" r="1.9" fill="#707070" stroke="#4c4c4c" stroke-width="0.6"/>
<circle cx="169.51" cy="241.65" r="1.9" fill="#707070" stroke="#4c4c4c" stroke-width="0.6"/>
<circle cx="170.53" cy="242.41" r="1.9" fill="#707070" stroke="#4c4c4c" stroke-width="0.6"/>
<circle cx="171.55" cy="242.76" r="1.9" fill="#707070" stroke="#4c4c4c" stroke-width="0.6"/>
<circle cx="172.58" cy="242.53" r="1.9" fill="#707070" stroke="#4c4c4c" stroke-width="0.6"/>
<circle cx="173.60" cy="243.22" r="1.9" fill="#707070" stroke="#4c4c4c" stroke-width="0.6"/>
<circle cx="174.62" cy="242.84" r="1.9" fill="#707070" stroke="#4c4c4c" stroke-width="0.6"/>
<circle cx="175.64" cy="243.80" r="1.9" fill="#707070" stroke="#4c4c4c" stroke-width="0.6"/>
<circle cx="176.67" cy="243.89" r="1.9" fill="#707070" stroke="#4c4c4c" stroke-width="0.6"/>
<circle cx="177.69" cy="243.58" r="1.9" fill="#707070" stroke="#4c4c4c" stroke-width="0.6"/>
<circle cx="178.71" cy="243.41" r="1.9" fill="#707070" stroke="#4c4c4c" stroke-width="0.6"/>
<circle cx="179.73" cy="243.69" r="1.9" fill="#707070" stroke="#4c4c4c" stroke-width="0.6"/>
<circle cx="180.76" cy="243.84" r="1.9" fill="#707070" stroke="#4c4c4c" stroke-width="0.6"/>
<circle cx="181.78" cy="244.52" r="1.9" fill="#707070" stroke="#4c4c4c" stroke-width="0.6"/>
<circle cx="182.80" cy="244.23" r="1.9" fill="#707070" stroke="#4c4c4c" stroke-width="0.6"/>
<circle cx="183.82" cy="244.25" r="1.9" fill="#707070" stroke="#4c4c4c" stroke-width="0.6"/>
<circle cx="184.85" cy="244.27" r="1.9" fill="#707070" stroke="#4c4c4c" stroke-width="0.6"/>
<circle cx="185.87" cy="243.98" r="1.9" fill="#707070" stroke="#4c4c4c" stroke-width="0.6"/>
<circle cx="186.89" cy="244.31" r="1.9" fill="#707070" stroke="#4c4c4c" stroke-width="0.6"/>
<circle cx="187.91" cy="244.02" r="1.9" fill="#707070" stroke="#4c4c4c" stroke-width="0.6"/>
<circle cx="188.94" cy="244.27" r="1.9" fill="#707070" stroke="#4c4c4c" stroke-width="0.6"/>
<circle cx="189.96" cy="244.44" r="1.9" fill="#707070" stroke="#4c4c4c" stroke-width="0.6"/>
<circle cx="190.98" cy="244.35" r="1.9" fill="#707070" stroke="#4c4c4c" stroke-width="0.6"/>
<circle cx="192.00" cy="244.31" r="1.9" fill="#707070" stroke="#4c4c4c" stroke-width="0.6"/>
<circle cx="193.03" cy="244.27" r="1.9" fill="#707070" stroke="#4c4c4c" stroke-width="0.6"/>
<circle cx="194.05" cy="244.77" r="1.9" fill="#707070" stroke="#4c4c4c" stroke-width="0.6"/>
<circle cx="195.07" cy="244.79" r="1.9" fill="#707070" stroke="#4c4c4c" stroke-width="0.6"/>
<circle cx="196.09" cy="245.23" r="1.9" fill="#707070" stroke="#4c4c4c" stroke-width="0.6"/>
<circle cx="197.12" cy="244.45" r="1.9" fill="#707070" stroke="#4c4c4c" stroke-width="0.6"/>
<circle cx="198.14" cy="244.59" r="1.9" fill="#707070" stroke="#4c4c4c" stroke-width="0.6"/>
<circle cx="199.16" cy="245.18" r="1.9" fill="#707070" stroke="#4c4c4c" stroke-width="0.6"/>
<circle cx="200.18" cy="245.37" r="1.9" fill="#707070" stroke="#4c4c4c" stroke-width="0.6"/>
<circle cx="201.21" cy="245.69" r="1.9" fill="#707070" stroke="#4c4c4c" stroke-width="0.6"/>
<circle cx="202.23" cy="245.37" r="1.9" fill="#707070" stroke="#4c4c4c" stroke-width="0.6"/>
<circle cx="203.25" cy="245.46" r="1.9" fill="#707070" stroke="#4c4c4c" stroke-width="0.6"/>
<circle cx="204.27" cy="244.97" r="1.9" fill="#707070" stroke="#4c4c4c" stroke-width="0.6"/>
<circle cx="205.30" cy="245.65" r="1.9" fill="#707070" stroke="#4c4c4c" stroke-width="0.6"/>
<circle cx="206.32" cy="246.06" r="1.9" fill="#707070" stroke="#4c4c4c" stroke-width="0.6"/>
<circle cx="207.34" cy="246.66" r="1.9" fill="#707070" stroke="#4c4c4c" stroke-width="0.6"/>
<circle cx="208.37" cy="245.60" r="1.9" fill="#707070" stroke="#4c4c4c" stroke-width="0.6"/>
<circle cx="209.39" cy="246.07" r="1.9" fill="#707070" stroke="#4c4c4c" stroke-width="0.6"/>
<circle cx="210.41" cy="246.71" r="1.9" fill="#707070" stroke="#4c4c4c" stroke-width="0.6"/>
<circle cx="211.43" cy="246.27" r="1.9" fill="#707070" stroke="#4c4c4c" stroke-width="0.6"/>
<circle cx="212.46" cy="246.91" r="1.9" fill="#707070" stroke="#4c4c4c" stroke-width="0.6"/>
<circle cx="213.48" cy="245.49" r="1.9" fill="#707070" stroke="#4c4c4c" stroke-width="0.6"/>
<circle cx="214.50" cy="246.29" r="1.9" fill="#707070" stroke="#4c4c4c" stroke-width="0.6"/>
<circle cx="215.52" cy="246.55" r="1.9" fill="#707070" stroke="#4c4c4c" stroke-width="0.6"/>
<circle cx="216.55" cy="246.88" r="1.9" fill="#707070" stroke="#4c4c4c" stroke-width="0.6"/>
<circle cx="217.57" cy="247.60" r="1.9" fill="#707070" stroke="#4c4c4c" stroke-width="0.6"/>
<circle cx="218.59" cy="247.13" r="1.9" fill="#707070" stroke="#4c4c4c" stroke-width="0.6"/>
<circle cx="219.61" cy="247.69" r="1.9" fill="#707070" stroke="#4c4c4c" stroke-width="0.6"/>
<circle cx="220.64" cy="247.18" r="1.9" fill="#707070" stroke="#4c4c4c" stroke-width="0.6"/>
<circle cx="46.80" cy="221.78" r="2.3" fill="none" stroke="#ec4048" stroke-width="0.9"/>
<circle cx="47.94" cy="220.78" r="2.3" fill="none" stroke="#ec4048" stroke-width="0.9"/>
<circle cx="49.07" cy="219.16" r="2.3" fill="none" stroke="#ec4048" stroke-width="0.9"/>
<circle cx="50.21" cy="218.74" r="2.3" fill="none" stroke="#ec4048" stroke-width="0.9"/>
<circle cx="51.34" cy="220.59" r="2.3" fill="none" stroke="#ec4048" stroke-width="0.9"/>
<circle cx="52.48" cy="220.76" r="2.3" fill="none" stroke="#ec4048" stroke-width="0.9"/>
<circle cx="53.62" cy="219.04" r="2.3" fill="none" stroke="#ec4048" stroke-width="0.9"/>
<circle cx="54.75" cy="219.04" r="2.3" fill="none" stroke="#ec4048" stroke-width="0.9"/>
<circle cx="55.89" cy="220.33" r="2.3" fill="none" stroke="#ec4048" stroke-width="0.9"/>
<circle cx="57.03" cy="220.16" r="2.3" fill="none" stroke="#ec4048" stroke-width="0.9"/>
<circle cx="58.16" cy="220.22" r="2.3" fill="none" stroke="#ec4048" stroke-width="0.9"/>
<circle cx="59.30" cy="220.64" r="2.3" fill="none" stroke="#ec4048" stroke-width="0.9"/>
<circle cx="60.43" cy="220.37" r="2.3" fill="none" stroke="#ec4048" stroke-width="0.9"/>
<circle cx="61.57" cy="219.12" r="2.3" fill="none" stroke="#ec4048" stroke-width="0.9"/>
<circle cx="62.71" cy="219.60" r="2.3" fill="none" stroke="#ec4048" stroke-width="0.9"/>
<circle cx="63.84" cy="218.72" r="2.3" fill="none" stroke="#ec4048" stroke-width="0.9"/>
<circle cx="64.98" cy="220.27" r="2.3" fill="none" stroke="#ec4048" stroke-width="0.9"/>
<circle cx="66.12" cy="220.34" r="2.3" fill="none" stroke="#ec4048" stroke-width="0.9"/>
<circle cx="67.25" cy="220.95" r="2.3" fill="none" stroke="#ec4048" stroke-width="0.9"/>
<circle cx="68.39" cy="220.35" r="2.3" fill="none" stroke="#ec4048" stroke-width="0.9"/>
<circle cx="69.52" cy="221.16" r="2.3" fill="none" stroke="#ec4048" stroke-width="0.9"/>
<circle cx="70.66" cy="221.45" r="2.3" fill="none" stroke="#ec4048" stroke-width="0.9"/>
<circle cx="71.80" cy="219.69" r="2.3" fill="none" stroke="#ec4048" stroke-width="0.9"/>
<circle cx="72.93" cy="219.13" r="2.3" fill="none" stroke="#ec4048" stroke-width="0.9"/>
<circle cx="74.07" cy="219.51" r="2.3" fill="none" stroke="#ec4048" stroke-width="0.9"/>
<circle cx="75.20" cy="219.15" r="2.3" fill="none" stroke="#ec4048" stroke-width="0.9"/>
<circle cx="76.34" cy="219.89" r="2.3" fill="none" stroke="#ec4048" stroke-width="0.9"/>
<circle cx="77.48" cy="220.57" r="2.3" fill="none" stroke="#ec4048" stroke-width="0.9"/>
<circle cx="78.61" cy="220.06" r="2.3" fill="none" stroke="#ec4048" stroke-width="0.9"/>
<circle cx="79.75" cy="220.44" r="2.3" fill="none" stroke="#ec4048" stroke-width="0.9"/>
<circle cx="80.89" cy="221.05" r="2.3" fill="none" stroke="#ec4048" stroke-width="0.9"/>
<circle cx="82.02" cy="221.57" r="2.3" fill="none" stroke="#ec4048" stroke-width="0.9"/>
<circle cx="83.16" cy="221.57" r="2.3" fill="none" stroke="#ec4048" stroke-width="0.9"/>
<circle cx="84.29" cy="220.70" r="2.3" fill="none" stroke="#ec4048" stroke-width="0.9"/>
<circle cx="85.43" cy="220.75" r="2.3" fill="none" stroke="#ec4048" stroke-width="0.9"/>
<circle cx="86.57" cy="221.35" r="2.3" fill="none" stroke="#ec4048" stroke-width="0.9"/>
<circle cx="87.70" cy="220.19" r="2.3" fill="none" stroke="#ec4048" stroke-width="0.9"/>
<circle cx="88.84" cy="221.20" r="2.3" fill="none" stroke="#ec4048" stroke-width="0.9"/>
<circle cx="89.97" cy="221.03" r="2.3" fill="none" stroke="#ec4048" stroke-width="0.9"/>
<circle cx="91.11" cy="220.68" r="2.3" fill="none" stroke="#ec4048" stroke-width="0.9"/>
<circle cx="92.25" cy="222.16" r="2.3" fill="none" stroke="#ec4048" stroke-width="0.9"/>
<circle cx="93.38" cy="222.98" r="2.3" fill="none" stroke="#ec4048" stroke-width="0.9"/>
<circle cx="94.52" cy="221.09" r="2.3" fill="none" stroke="#ec4048" stroke-width="0.9"/>
<circle cx="95.66" cy="222.06" r="2.3" fill="none" stroke="#ec4048" stroke-width="0.9"/>
<circle cx="96.79" cy="220.61" r="2.3" fill="none" stroke="#ec4048" stroke-width="0.9"/>
<circle cx="97.93" cy="221.21" r="2.3" fill="none" stroke="#ec4048" stroke-width="0.9"/>
<circle cx="99.06" cy="220.65" r="2.3" fill="none" stroke="#ec4048" stroke-width="0.9"/>
<circle cx="100.20" cy="220.72" r="2.3" fill="none" stroke="#ec4048" stroke-width="0.9"/>
<circle cx="101.34" cy="222.60" r="2.3" fill="none" stroke="#ec4048" stroke-width="0.9"/>
<circle cx="102.47" cy="220.57" r="2.3" fill="none" stroke="#ec4048" stroke-width="0.9"/>
<circle cx="103.61" cy="221.46" r="2.3" fill="none" stroke="#ec4048" stroke-width="0.9"/>
<circle cx="104.75" cy="221.46" r="2.3" fill="none" stroke="#ec4048" stroke-width="0.9"/>
<circle cx="105.88" cy="221.21" r="2.3" fill="none" stroke="#ec4048" stroke-width="0.9"/>
<circle cx="107.02" cy="220.36" r="2.3" fill="none" stroke="#ec4048" stroke-width="0.9"/>
<circle cx="108.15" cy="220.29" r="2.3" fill="none" stroke="#ec4048" stroke-width="0.9"/>
<circle cx="109.29" cy="220.23" r="2.3" fill="none" stroke="#ec4048" stroke-width="0.9"/>
<circle cx="110.43" cy="222.12" r="2.3" fill="none" stroke="#ec4048" stroke-width="0.9"/>
<circle cx="111.56" cy="221.42" r="2.3" fill="none" stroke="#ec4048" stroke-width="0.9"/>
<circle cx="112.70" cy="222.71" r="2.3" fill="none" stroke="#ec4048" stroke-width="0.9"/>
<circle cx="113.83" cy="221.17" r="2.3" fill="none" stroke="#ec4048" stroke-width="0.9"/>
<circle cx="114.97" cy="220.71" r="2.3" fill="none" stroke="#ec4048" stroke-width="0.9"/>
<circle cx="116.11" cy="221.67" r="2.3" fill="none" stroke="#ec4048" stroke-width="0.9"/>
<circle cx="117.24" cy="220.96" r="2.3" fill="none" stroke="#ec4048" stroke-width="0.9"/>
<circle cx="118.38" cy="220.94" r="2.3" fill="none" stroke="#ec4048" stroke-width="0.9"/>
<circle cx="119.52" cy="220.34" r="2.3" fill="none" stroke="#ec4048" stroke-width="0.9"/>
<circle cx="120.65" cy="221.52" r="2.3" fill="none" stroke="#ec4048" stroke-width="0.9"/>
<circle cx="121.79" cy="221.43" r="2.3" fill="none" stroke="#ec4048" stroke-width="0.9"/>
<circle cx="122.92" cy="221.27" r="2.3" fill="none" stroke="#ec4048" stroke-width="0.9"/>
<circle cx="124.06" cy="219.40" r="2.3" fill="none" stroke="#ec4048" stroke-width="0.9"/>
<circle cx="125.20" cy="219.73" r="2.3" fill="none" stroke="#ec4048" stroke-width="0.9"/>
<circle cx="126.33" cy="220.45" r="2.3" fill="none" stroke="#ec4048" stroke-width="0.9"/>
<circle cx="127.47" cy="220.11" r="2.3" fill="none" stroke="#ec4048" stroke-width="0.9"/>
<circle cx="128.61" cy="220.10" r="2.3" fill="none" stroke="#ec4048" stroke-width="0.9"/>
<circle cx="129.74" cy="219.99" r="2.3" fill="none" stroke="#ec4048" stroke-width="0.9"/>
<circle cx="130.88" cy="220.25" r="2.3" fill="none" stroke="#ec4048" stroke-width="0.9"/>
<circle cx="132.01" cy="220.34" r="2.3" fill="none" stroke="#ec4048" stroke-width="0.9"/>
<circle cx="133.15" cy="221.02" r="2.3" fill="none" stroke="#ec4048" stroke-width="0.9"/>
<circle cx="134.29" cy="220.67" r="2.3" fill="none" stroke="#ec4048" stroke-width="0.9"/>
<circle cx="135.42" cy="219.18" r="2.3" fill="none" stroke="#ec4048" stroke-width="0.9"/>
<circle cx="136.56" cy="220.08" r="2.3" fill="none" stroke="#ec4048" stroke-width="0.9"/>
<circle cx="137.69" cy="220.54" r="2.3" fill="none" stroke="#ec4048" stroke-width="0.9"/>
<circle cx="138.83" cy="220.88" r="2.3" fill="none" stroke="#ec4048" stroke-width="0.9"/>
<circle cx="139.97" cy="220.83" r="2.3" fill="none" stroke="#ec4048" stroke-width="0.9"/>
<circle cx="141.10" cy="220.77" r="2.3" fill="none" stroke="#ec4048" stroke-width="0.9"/>
<circle cx="142.24" cy="221.58" r="2.3" fill="none" stroke="#ec4048" stroke-width="0.9"/>
<circle cx="143.38" cy="221.10" r="2.3" fill="none" stroke="#ec4048" stroke-width="0.9"/>
<circle cx="144.51" cy="221.15" r="2.3" fill="none" stroke="#ec4048" stroke-width="0.9"/>
<circle cx="145.65" cy="221.89" r="2.3" fill="none" stroke="#ec4048" stroke-width="0.9"/>
<circle cx="146.78" cy="221.95" r="2.3" fill="none" stroke="#ec4048" stroke-width="0.9"/>
<circle cx="147.92" cy="222.11" r="2.3" fill="none" stroke="#ec4048" stroke-width="0.9"/>
<circle cx="149.06" cy="222.15" r="2.3" fill="none" stroke="#ec4048" stroke-width="0.9"/>
<circle cx="150.19" cy="220.77" r="2.3" fill="none" stroke="#ec4048" stroke-width="0.9"/>
<circle cx="151.33" cy="223.00" r="2.3" fill="none" stroke="#ec4048" stroke-width="0.9"/>
<circle cx="152.46" cy="221.52" r="2.3" fill="none" stroke="#ec4048" stroke-width="0.9"/>
<circle cx="153.60" cy="221.74" r="2.3" fill="none" stroke="#ec4048" stroke-width="0.9"/>
<circle cx="154.74" cy="221.74" r="2.3" fill="none" stroke="#ec4048" stroke-width="0.9"/>
<circle cx="155.87" cy="221.26" r="2.3" fill="none" stroke="#ec4048" stroke-width="0.9"/>
<circle cx="157.01" cy="220.57" r="2.3" fill="none" stroke="#ec4048" stroke-width="0.9"/>
<circle cx="158.15" cy="221.36" r="2.3" fill="none" stroke="#ec4048" stroke-width="0.9"/>
<circle cx="159.28" cy="221.58" r="2.3" fill="none" stroke="#ec4048" stroke-width="0.9"/>
<circle cx="160.42" cy="222.00" r="2.3" fill="none" stroke="#ec4048" stroke-width="0.9"/>
<circle cx="161.55" cy="221.77" r="2.3" fill="none" stroke="#ec4048" stroke-width="0.9"/>
<circle cx="162.69" cy="221.17" r="2.3" fill="none" stroke="#ec4048" stroke-width="0.9"/>
<circle cx="163.83" cy="222.19" r="2.3" fill="none" stroke="#ec4048" stroke-width="0.9"/>
<circle cx="164.96" cy="222.83" r="2.3" fill="none" stroke="#ec4048" stroke-width="0.9"/>
<circle cx="166.10" cy="223.01" r="2.3" fill="none" stroke="#ec4048" stroke-width="0.9"/>
<circle cx="167.24" cy="222.99" r="2.3" fill="none" stroke="#ec4048" stroke-width="0.9"/>
<circle cx="168.37" cy="223.24" r="2.3" fill="none" stroke="#ec4048" stroke-width="0.9"/>
<circle cx="169.51" cy="221.54" r="2.3" fill="none" stroke="#ec4048" stroke-width="0.9"/>
<circle cx="170.64" cy="222.05" r="2.3" fill="none" stroke="#ec4048" stroke-width="0.9"/>
<circle cx="171.78" cy="222.43" r="2.3" fill="none" stroke="#ec4048" stroke-width="0.9"/>
<circle cx="172.92" cy="221.18" r="2.3" fill="none" stroke="#ec4048" stroke-width="0.9"/>
<circle cx="174.05" cy="222.56" r="2.3" fill="none" stroke="#ec4048" stroke-width="0.9"/>
<circle cx="175.19" cy="221.46" r="2.3" fill="none" stroke="#ec4048" stroke-width="0.9"/>
<circle cx="176.32" cy="221.29" r="2.3" fill="none" stroke="#ec4048" stroke-width="0.9"/>
<circle cx="177.46" cy="222.78" r="2.3" fill="none" stroke="#ec4048" stroke-width="0.9"/>
<circle cx="178.60" cy="222.64" r="2.3" fill="none" stroke="#ec4048" stroke-width="0.9"/>
<circle cx="179.73" cy="222.07" r="2.3" fill="none" stroke="#ec4048" stroke-width="0.9"/>
<circle cx="180.87" cy="220.68" r="2.3" fill="none" stroke="#ec4048" stroke-width="0.9"/>
<circle cx="182.01" cy="220.31" r="2.3" fill="none" stroke="#ec4048" stroke-width="0.9"/>
<circle cx="183.14" cy="221.98" r="2.3" fill="none" stroke="#ec4048" stroke-width="0.9"/>
<circle cx="184.28" cy="220.35" r="2.3" fill="none" stroke="#ec4048" stroke-width="0.9"/>
<circle cx="185.41" cy="221.32" r="2.3" fill="none" stroke="#ec4048" stroke-width="0.9"/>
<circle cx="186.55" cy="221.33" r="2.3" fill="none" stroke="#ec4048" stroke-width="0.9"/>
<circle cx="187.69" cy="221.47" r="2.3" fill="none" stroke="#ec4048" stroke-width="0.9"/>
<circle cx="188.82" cy="221.36" r="2.3" fill="none" stroke="#ec4048" stroke-width="0.9"/>
<circle cx="189.96" cy="222.45" r="2.3" fill="none" stroke="#ec4048" stroke-width="0.9"/>
<circle cx="191.10" cy="221.94" r="2.3" fill="none" stroke="#ec4048" stroke-width="0.9"/>
<circle cx="192.23" cy="222.17" r="2.3" fill="none" stroke="#ec4048" stroke-width="0.9"/>
<circle cx="193.37" cy="221.02" r="2.3" fill="none" stroke="#ec4048" stroke-width="0.9"/>
<circle cx="194.50" cy="219.95" r="2.3" fill="none" stroke="#ec4048" stroke-width="0.9"/>
<circle cx="195.64" cy="219.53" r="2.3" fill="none" stroke="#ec4048" stroke-width="0.9"/>
<circle cx="196.78" cy="221.66" r="2.3" fill="none" stroke="#ec4048" stroke-width="0.9"/>
<circle cx="197.91" cy="222.60" r="2.3" fill="none" stroke="#ec4048" stroke-width="0.9"/>
<circle cx="199.05" cy="221.65" r="2.3" fill="none" stroke="#ec4048" stroke-width="0.9"/>
<circle cx="200.18" cy="221.97" r="2.3" fill="none" stroke="#ec4048" stroke-width="0.9"/>
<circle cx="201.32" cy="219.88" r="2.3" fill="none" stroke="#ec4048" stroke-width="0.9"/>
<circle cx="202.46" cy="220.79" r="2.3" fill="none" stroke="#ec4048" stroke-width="0.9"/>
<circle cx="203.59" cy="221.62" r="2.3" fill="none" stroke="#ec4048" stroke-width="0.9"/>
<circle cx="204.73" cy="220.41" r="2.3" fill="none" stroke="#ec4048" stroke-width="0.9"/>
<circle cx="205.87" cy="220.64" r="2.3" fill="none" stroke="#ec4048" stroke-width="0.9"/>
<circle cx="207.00" cy="222.12" r="2.3" fill="none" stroke="#ec4048" stroke-width="0.9"/>
<circle cx="208.14" cy="221.37" r="2.3" fill="none" stroke="#ec4048" stroke-width="0.9"/>
<circle cx="209.27" cy="221.20" r="2.3" fill="none" stroke="#ec4048" stroke-width="0.9"/>
<circle cx="210.41" cy="221.09" r="2.3" fill="none" stroke="#ec4048" stroke-width="0.9"/>
<circle cx="211.55" cy="221.11" r="2.3" fill="none" stroke="#ec4048" stroke-width="0.9"/>
<circle cx="212.68" cy="221.56" r="2.3" fill="none" stroke="#ec4048" stroke-width="0.9"/>
<circle cx="213.82" cy="221.34" r="2.3" fill="none" stroke="#ec4048" stroke-width="0.9"/>
<circle cx="214.95" cy="222.04" r="2.3" fill="none" stroke="#ec4048" stroke-width="0.9"/>
<circle cx="216.09" cy="222.42" r="2.3" fill="none" stroke="#ec4048" stroke-width="0.9"/>
<circle cx="217.23" cy="220.92" r="2.3" fill="none" stroke="#ec4048" stroke-width="0.9"/>
<circle cx="218.36" cy="221.88" r="2.3" fill="none" stroke="#ec4048" stroke-width="0.9"/>
<circle cx="219.50" cy="221.98" r="2.3" fill="none" stroke="#ec4048" stroke-width="0.9"/>
<circle cx="220.64" cy="223.51" r="2.3" fill="none" stroke="#ec4048" stroke-width="0.9"/>
<circle cx="221.77" cy="222.62" r="2.3" fill="none" stroke="#ec4048" stroke-width="0.9"/>
<circle cx="222.91" cy="222.01" r="2.3" fill="none" stroke="#ec4048" stroke-width="0.9"/>
<circle cx="224.04" cy="223.52" r="2.3" fill="none" stroke="#ec4048" stroke-width="0.9"/>
<circle cx="225.18" cy="221.87" r="2.3" fill="none" stroke="#ec4048" stroke-width="0.9"/>
<circle cx="226.32" cy="222.89" r="2.3" fill="none" stroke="#ec4048" stroke-width="0.9"/>
<circle cx="227.45" cy="222.30" r="2.3" fill="none" stroke="#ec4048" stroke-width="0.9"/>
<circle cx="228.59" cy="222.62" r="2.3" fill="none" stroke="#ec4048" stroke-width="0.9"/>
<circle cx="229.73" cy="222.31" r="2.3" fill="none" stroke="#ec4048" stroke-width="0.9"/>
<circle cx="230.86" cy="221.56" r="2.3" fill="none" stroke="#ec4048" stroke-width="0.9"/>
<circle cx="232.00" cy="222.61" r="2.3" fill="none" stroke="#ec4048" stroke-width="0.9"/>
<circle cx="233.13" cy="221.19" r="2.3" fill="none" stroke="#ec4048" stroke-width="0.9"/>
<circle cx="234.27" cy="222.78" r="2.3" fill="none" stroke="#ec4048" stroke-width="0.9"/>
<circle cx="235.41" cy="222.87" r="2.3" fill="none" stroke="#ec4048" stroke-width="0.9"/>
<circle cx="236.54" cy="221.73" r="2.3" fill="none" stroke="#ec4048" stroke-width="0.9"/>
<circle cx="237.68" cy="222.98" r="2.3" fill="none" stroke="#ec4048" stroke-width="0.9"/>
<circle cx="238.81" cy="222.54" r="2.3" fill="none" stroke="#ec4048" stroke-width="0.9"/>
<circle cx="239.95" cy="221.71" r="2.3" fill="none" stroke="#ec4048" stroke-width="0.9"/>
<circle cx="241.09" cy="221.56" r="2.3" fill="none" stroke="#ec4048" stroke-width="0.9"/>
<circle cx="242.22" cy="223.69" r="2.3" fill="none" stroke="#ec4048" stroke-width="0.9"/>
<circle cx="243.36" cy="222.17" r="2.3" fill="none" stroke="#ec4048" stroke-width="0.9"/>
<circle cx="244.50" cy="221.26" r="2.3" fill="none" stroke="#ec4048" stroke-width="0.9"/>
<circle cx="245.63" cy="221.77" r="2.3" fill="none" stroke="#ec4048" stroke-width="0.9"/>
<circle cx="246.77" cy="222.77" r="2.3" fill="none" stroke="#ec4048" stroke-width="0.9"/>
<circle cx="247.90" cy="223.00" r="2.3" fill="none" stroke="#ec4048" stroke-width="0.9"/>
<circle cx="249.04" cy="222.75" r="2.3" fill="none" stroke="#ec4048" stroke-width="0.9"/>
<circle cx="250.18" cy="223.27" r="2.3" fill="none" stroke="#ec4048" stroke-width="0.9"/>
<circle cx="251.31" cy="222.55" r="2.3" fill="none" stroke="#ec4048" stroke-width="0.9"/>
<circle cx="252.45" cy="222.38" r="2.3" fill="none" stroke="#ec4048" stroke-width="0.9"/>
<circle cx="253.59" cy="222.22" r="2.3" fill="none" stroke="#ec4048" stroke-width="0.9"/>
<circle cx="254.72" cy="221.15" r="2.3" fill="none" stroke="#ec4048" stroke-width="0.9"/>
<circle cx="255.86" cy="221.99" r="2.3" fill="none" stroke="#ec4048" stroke-width="0.9"/>
<circle cx="256.99" cy="222.70" r="2.3" fill="none" stroke="#ec4048" stroke-width="0.9"/>
<circle cx="258.13" cy="220.84" r="2.3" fill="none" stroke="#ec4048" stroke-width="0.9"/>
<circle cx="259.27" cy="222.21" r="2.3" fill="none" stroke="#ec4048" stroke-width="0.9"/>
<circle cx="260.40" cy="221.71" r="2.3" fill="none" stroke="#ec4048" stroke-width="0.9"/>
<circle cx="261.54" cy="221.45" r="2.3" fill="none" stroke="#ec4048" stroke-width="0.9"/>
<circle cx="262.67" cy="221.58" r="2.3" fill="none" stroke="#ec4048" stroke-width="0.9"/>
<circle cx="263.81" cy="222.06" r="2.3" fill="none" stroke="#ec4048" stroke-width="0.9"/>
<circle cx="264.95" cy="221.59" r="2.3" fill="none" stroke="#ec4048" stroke-width="0.9"/>
<circle cx="266.08" cy="219.98" r="2.3" fill="none" stroke="#ec4048" stroke-width="0.9"/>
<circle cx="267.22" cy="222.01" r="2.3" fill="none" stroke="#ec4048" stroke-width="0.9"/>
<circle cx="268.36" cy="221.80" r="2.3" fill="none" stroke="#ec4048" stroke-width="0.9"/>
<circle cx="269.49" cy="221.04" r="2.3" fill="none" stroke="#ec4048" stroke-width="0.9"/>
<circle cx="270.63" cy="221.42" r="2.3" fill="none" stroke="#ec4048" stroke-width="0.9"/>
<circle cx="271.76" cy="221.51" r="2.3" fill="none" stroke="#ec4048" stroke-width="0.9"/>
<circle cx="272.90" cy="221.54" r="2.3" fill="none" stroke="#ec4048" stroke-width="0.9"/>
<circle cx="274.04" cy="223.58" r="2.3" fill="none" stroke="#ec4048" stroke-width="0.9"/>
<circle cx="275.17" cy="222.87" r="2.3" fill="none" stroke="#ec4048" stroke-width="0.9"/>
<circle cx="276.31" cy="222.21" r="2.3" fill="none" stroke="#ec4048" stroke-width="0.9"/>
<circle cx="277.44" cy="221.97" r="2.3" fill="none" stroke="#ec4048" stroke-width="0.9"/>
<circle cx="278.58" cy="221.41" r="2.3" fill="none" stroke="#ec4048" stroke-width="0.9"/>
<circle cx="279.72" cy="221.96" r="2.3" fill="none" stroke="#ec4048" stroke-width="0.9"/>
<circle cx="280.85" cy="222.43" r="2.3" fill="none" stroke="#ec4048" stroke-width="0.9"/>
<circle cx="281.99" cy="222.21" r="2.3" fill="none" stroke="#ec4048" stroke-width="0.9"/>
<circle cx="283.13" cy="222.36" r="2.3" fill="none" stroke="#ec4048" stroke-width="0.9"/>
<circle cx="284.26" cy="222.03" r="2.3" fill="none" stroke="#ec4048" stroke-width="0.9"/>
<circle cx="285.40" cy="221.75" r="2.3" fill="none" stroke="#ec4048" stroke-width="0.9"/>
<circle cx="286.53" cy="222.48" r="2.3" fill="none" stroke="#ec4048" stroke-width="0.9"/>
<circle cx="287.67" cy="222.86" r="2.3" fill="none" stroke="#ec4048" stroke-width="0.9"/>
<circle cx="288.81" cy="222.97" r="2.3" fill="none" stroke="#ec4048" stroke-width="0.9"/>
<circle cx="289.94" cy="221.72" r="2.3" fill="none" stroke="#ec4048" stroke-width="0.9"/>
<circle cx="291.08" cy="221.71" r="2.3" fill="none" stroke="#ec4048" stroke-width="0.9"/>
<circle cx="292.22" cy="222.05" r="2.3" fill="none" stroke="#ec4048" stroke-width="0.9"/>
<circle cx="293.35" cy="222.29" r="2.3" fill="none" stroke="#ec4048" stroke-width="0.9"/>
<circle cx="294.49" cy="222.45" r="2.3" fill="none" stroke="#ec4048" stroke-width="0.9"/>
<circle cx="295.62" cy="223.17" r="2.3" fill="none" stroke="#ec4048" stroke-width="0.9"/>
<circle cx="296.76" cy="222.83" r="2.3" fill="none" stroke="#ec4048" stroke-width="0.9"/>
<circle cx="297.90" cy="224.13" r="2.3" fill="none" stroke="#ec4048" stroke-width="0.9"/>
<circle cx="299.03" cy="223.62" r="2.3" fill="none" stroke="#ec4048" stroke-width="0.9"/>
<circle cx="300.17" cy="224.03" r="2.3" fill="none" stroke="#ec4048" stroke-width="0.9"/>
<circle cx="301.30" cy="223.04" r="2.3" fill="none" stroke="#ec4048" stroke-width="0.9"/>
<circle cx="302.44" cy="223.92" r="2.3" fill="none" stroke="#ec4048" stroke-width="0.9"/>
<circle cx="303.58" cy="223.55" r="2.3" fill="none" stroke="#ec4048" stroke-width="0.9"/>
<circle cx="304.71" cy="223.12" r="2.3" fill="none" stroke="#ec4048" stroke-width="0.9"/>
<circle cx="305.85" cy="222.36" r="2.3" fill="none" stroke="#ec4048" stroke-width="0.9"/>
<circle cx="306.99" cy="223.73" r="2.3" fill="none" stroke="#ec4048" stroke-width="0.9"/>
<circle cx="308.12" cy="223.71" r="2.3" fill="none" stroke="#ec4048" stroke-width="0.9"/>
<circle cx="309.26" cy="222.37" r="2.3" fill="none" stroke="#ec4048" stroke-width="0.9"/>
<circle cx="310.39" cy="223.59" r="2.3" fill="none" stroke="#ec4048" stroke-width="0.9"/>
<circle cx="311.53" cy="222.40" r="2.3" fill="none" stroke="#ec4048" stroke-width="0.9"/>
<circle cx="312.67" cy="223.03" r="2.3" fill="none" stroke="#ec4048" stroke-width="0.9"/>
<circle cx="313.80" cy="222.64" r="2.3" fill="none" stroke="#ec4048" stroke-width="0.9"/>
<circle cx="314.94" cy="223.80" r="2.3" fill="none" stroke="#ec4048" stroke-width="0.9"/>
<circle cx="316.08" cy="222.03" r="2.3" fill="none" stroke="#ec4048" stroke-width="0.9"/>
<circle cx="317.21" cy="222.88" r="2.3" fill="none" stroke="#ec4048" stroke-width="0.9"/>
<circle cx="318.35" cy="223.18" r="2.3" fill="none" stroke="#ec4048" stroke-width="0.9"/>
<circle cx="319.48" cy="221.15" r="2.3" fill="none" stroke="#ec4048" stroke-width="0.9"/>
<circle cx="320.62" cy="222.15" r="2.3" fill="none" stroke="#ec4048" stroke-width="0.9"/>
<circle cx="321.76" cy="220.25" r="2.3" fill="none" stroke="#ec4048" stroke-width="0.9"/>
<circle cx="322.89" cy="222.44" r="2.3" fill="none" stroke="#ec4048" stroke-width="0.9"/>
<circle cx="324.03" cy="222.99" r="2.3" fill="none" stroke="#ec4048" stroke-width="0.9"/>
<circle cx="325.16" cy="222.69" r="2.3" fill="none" stroke="#ec4048" stroke-width="0.9"/>
<circle cx="326.30" cy="221.64" r="2.3" fill="none" stroke="#ec4048" stroke-width="0.9"/>
<circle cx="327.44" cy="222.74" r="2.3" fill="none" stroke="#ec4048" stroke-width="0.9"/>
<circle cx="328.57" cy="222.36" r="2.3" fill="none" stroke="#ec4048" stroke-width="0.9"/>
<circle cx="329.71" cy="222.24" r="2.3" fill="none" stroke="#ec4048" stroke-width="0.9"/>
<circle cx="330.85" cy="223.14" r="2.3" fill="none" stroke="#ec4048" stroke-width="0.9"/>
<circle cx="331.98" cy="222.32" r="2.3" fill="none" stroke="#ec4048" stroke-width="0.9"/>
<circle cx="333.12" cy="222.66" r="2.3" fill="none" stroke="#ec4048" stroke-width="0.9"/>
<circle cx="334.25" cy="223.08" r="2.3" fill="none" stroke="#ec4048" stroke-width="0.9"/>
<circle cx="335.39" cy="221.53" r="2.3" fill="none" stroke="#ec4048" stroke-width="0.9"/>
<circle cx="336.53" cy="221.61" r="2.3" fill="none" stroke="#ec4048" stroke-width="0.9"/>
<circle cx="337.66" cy="221.98" r="2.3" fill="none" stroke="#ec4048" stroke-width="0.9"/>
<circle cx="338.80" cy="222.65" r="2.3" fill="none" stroke="#ec4048" stroke-width="0.9"/>
<circle cx="339.93" cy="223.43" r="2.3" fill="none" stroke="#ec4048" stroke-width="0.9"/>
<circle cx="341.07" cy="221.76" r="2.3" fill="none" stroke="#ec4048" stroke-width="0.9"/>
<circle cx="342.21" cy="222.25" r="2.3" fill="none" stroke="#ec4048" stroke-width="0.9"/>
<circle cx="343.34" cy="223.46" r="2.3" fill="none" stroke="#ec4048" stroke-width="0.9"/>
<circle cx="344.48" cy="222.47" r="2.3" fill="none" stroke="#ec4048" stroke-width="0.9"/>
<circle cx="345.62" cy="223.64" r="2.3" fill="none" stroke="#ec4048" stroke-width="0.9"/>
<circle cx="346.75" cy="222.76" r="2.3" fill="none" stroke="#ec4048" stroke-width="0.9"/>
<circle cx="347.89" cy="222.81" r="2.3" fill="none" stroke="#ec4048" stroke-width="0.9"/>
<circle cx="349.02" cy="222.82" r="2.3" fill="none" stroke="#ec4048" stroke-width="0.9"/>
<circle cx="350.16" cy="223.05" r="2.3" fill="none" stroke="#ec4048" stroke-width="0.9"/>
<circle cx="351.30" cy="223.21" r="2.3" fill="none" stroke="#ec4048" stroke-width="0.9"/>
<circle cx="352.43" cy="224.22" r="2.3" fill="none" stroke="#ec4048" stroke-width="0.9"/>
<circle cx="353.57" cy="223.76" r="2.3" fill="none" stroke="#ec4048" stroke-width="0.9"/>
<circle cx="354.71" cy="223.90" r="2.3" fill="none" stroke="#ec4048" stroke-width="0.9"/>
<circle cx="355.84" cy="223.73" r="2.3" fill="none" stroke="#ec4048" stroke-width="0.9"/>
<circle cx="356.98" cy="223.37" r="2.3" fill="none" stroke="#ec4048" stroke-width="0.9"/>
<circle cx="358.11" cy="223.11" r="2.3" fill="none" stroke="#ec4048" stroke-width="0.9"/>
<circle cx="359.25" cy="222.37" r="2.3" fill="none" stroke="#ec4048" stroke-width="0.9"/>
<circle cx="360.39" cy="225.24" r="2.3" fill="none" stroke="#ec4048" stroke-width="0.9"/>
<circle cx="361.52" cy="223.14" r="2.3" fill="none" stroke="#ec4048" stroke-width="0.9"/>
<circle cx="362.66" cy="223.53" r="2.3" fill="none" stroke="#ec4048" stroke-width="0.9"/>
<circle cx="363.79" cy="221.79" r="2.3" fill="none" stroke="#ec4048" stroke-width="0.9"/>
<circle cx="364.93" cy="222.72" r="2.3" fill="none" stroke="#ec4048" stroke-width="0.9"/>
<circle cx="366.07" cy="224.53" r="2.3" fill="none" stroke="#ec4048" stroke-width="0.9"/>
<circle cx="367.20" cy="223.15" r="2.3" fill="none" stroke="#ec4048" stroke-width="0.9"/>
<circle cx="368.34" cy="223.84" r="2.3" fill="none" stroke="#ec4048" stroke-width="0.9"/>
<circle cx="369.48" cy="222.87" r="2.3" fill="none" stroke="#ec4048" stroke-width="0.9"/>
<circle cx="370.61" cy="224.37" r="2.3" fill="none" stroke="#ec4048" stroke-width="0.9"/>
<circle cx="371.75" cy="223.80" r="2.3" fill="none" stroke="#ec4048" stroke-width="0.9"/>
<circle cx="372.88" cy="223.91" r="2.3" fill="none" stroke="#ec4048" stroke-width="0.9"/>
<circle cx="374.02" cy="223.97" r="2.3" fill="none" stroke="#ec4048" stroke-width="0.9"/>
<circle cx="375.16" cy="224.37" r="2.3" fill="none" stroke="#ec4048" stroke-width="0.9"/>
<circle cx="376.29" cy="225.28" r="2.3" fill="none" stroke="#ec4048" stroke-width="0.9"/>
<circle cx="377.43" cy="223.71" r="2.3" fill="none" stroke="#ec4048" stroke-width="0.9"/>
<circle cx="378.57" cy="223.32" r="2.3" fill="none" stroke="#ec4048" stroke-width="0.9"/>
<circle cx="379.70" cy="224.02" r="2.3" fill="none" stroke="#ec4048" stroke-width="0.9"/>
<circle cx="380.84" cy="224.60" r="2.3" fill="none" stroke="#ec4048" stroke-width="0.9"/>
<circle cx="381.97" cy="223.66" r="2.3" fill="none" stroke="#ec4048" stroke-width="0.9"/>
<circle cx="383.11" cy="223.28" r="2.3" fill="none" stroke="#ec4048" stroke-width="0.9"/>
<circle cx="384.25" cy="223.65" r="2.3" fill="none" stroke="#ec4048" stroke-width="0.9"/>
<circle cx="385.38" cy="223.39" r="2.3" fill="none" stroke="#ec4048" stroke-width="0.9"/>
<circle cx="386.52" cy="222.26" r="2.3" fill="none" stroke="#ec4048" stroke-width="0.9"/>
<circle cx="387.65" cy="223.87" r="2.3" fill="none" stroke="#ec4048" stroke-width="0.9"/>
<circle cx="388.79" cy="223.35" r="2.3" fill="none" stroke="#ec4048" stroke-width="0.9"/>
<circle cx="389.93" cy="224.17" r="2.3" fill="none" stroke="#ec4048" stroke-width="0.9"/>
<circle cx="391.06" cy="223.25" r="2.3" fill="none" stroke="#ec4048" stroke-width="0.9"/>
<circle cx="392.20" cy="223.23" r="2.3" fill="none" stroke="#ec4048" stroke-width="0.9"/>
<circle cx="393.34" cy="223.36" r="2.3" fill="none" stroke="#ec4048" stroke-width="0.9"/>
<circle cx="394.47" cy="223.18" r="2.3" fill="none" stroke="#ec4048" stroke-width="0.9"/>
<circle cx="395.61" cy="221.49" r="2.3" fill="none" stroke="#ec4048" stroke-width="0.9"/>
<circle cx="396.74" cy="222.92" r="2.3" fill="none" stroke="#ec4048" stroke-width="0.9"/>
<circle cx="397.88" cy="222.94" r="2.3" fill="none" stroke="#ec4048" stroke-width="0.9"/>
<circle cx="399.02" cy="221.42" r="2.3" fill="none" stroke="#ec4048" stroke-width="0.9"/>
<circle cx="400.15" cy="223.07" r="2.3" fill="none" stroke="#ec4048" stroke-width="0.9"/>
<circle cx="401.29" cy="224.32" r="2.3" fill="none" stroke="#ec4048" stroke-width="0.9"/>
<circle cx="402.42" cy="222.91" r="2.3" fill="none" stroke="#ec4048" stroke-width="0.9"/>
<circle cx="403.56" cy="223.89" r="2.3" fill="none" stroke="#ec4048" stroke-width="0.9"/>
<circle cx="404.70" cy="222.15" r="2.3" fill="none" stroke="#ec4048" stroke-width="0.9"/>
<circle cx="405.83" cy="224.17" r="2.3" fill="none" stroke="#ec4048" stroke-width="0.9"/>
<circle cx="406.97" cy="223.71" r="2.3" fill="none" stroke="#ec4048" stroke-width="0.9"/>
<circle cx="408.11" cy="224.40" r="2.3" fill="none" stroke="#ec4048" stroke-width="0.9"/>
<circle cx="409.24" cy="223.19" r="2.3" fill="none" stroke="#ec4048" stroke-width="0.9"/>
<circle cx="410.38" cy="223.92" r="2.3" fill="none" stroke="#ec4048" stroke-width="0.9"/>
<circle cx="411.51" cy="223.21" r="2.3" fill="none" stroke="#ec4048" stroke-width="0.9"/>
<circle cx="412.65" cy="223.39" r="2.3" fill="none" stroke="#ec4048" stroke-width="0.9"/>
<circle cx="413.79" cy="223.53" r="2.3" fill="none" stroke="#ec4048" stroke-width="0.9"/>
<circle cx="414.92" cy="222.43" r="2.3" fill="none" stroke="#ec4048" stroke-width="0.9"/>
<circle cx="416.06" cy="222.45" r="2.3" fill="none" stroke="#ec4048" stroke-width="0.9"/>
<circle cx="417.20" cy="223.09" r="2.3" fill="none" stroke="#ec4048" stroke-width="0.9"/>
<circle cx="418.33" cy="223.82" r="2.3" fill="none" stroke="#ec4048" stroke-width="0.9"/>
<circle cx="419.47" cy="224.03" r="2.3" fill="none" stroke="#ec4048" stroke-width="0.9"/>
<circle cx="420.60" cy="223.22" r="2.3" fill="none" stroke="#ec4048" stroke-width="0.9"/>
<circle cx="421.74" cy="221.89" r="2.3" fill="none" stroke="#ec4048" stroke-width="0.9"/>
<circle cx="422.88" cy="224.02" r="2.3" fill="none" stroke="#ec4048" stroke-width="0.9"/>
<circle cx="424.01" cy="224.41" r="2.3" fill="none" stroke="#ec4048" stroke-width="0.9"/>
<circle cx="425.15" cy="224.51" r="2.3" fill="none" stroke="#ec4048" stroke-width="0.9"/>
<circle cx="426.28" cy="224.95" r="2.3" fill="none" stroke="#ec4048" stroke-width="0.9"/>
<circle cx="427.42" cy="225.01" r="2.3" fill="none" stroke="#ec4048" stroke-width="0.9"/>
<circle cx="428.56" cy="224.60" r="2.3" fill="none" stroke="#ec4048" stroke-width="0.9"/>
<circle cx="429.69" cy="223.56" r="2.3" fill="none" stroke="#ec4048" stroke-width="0.9"/>
<circle cx="430.83" cy="224.62" r="2.3" fill="none" stroke="#ec4048" stroke-width="0.9"/>
<circle cx="431.97" cy="225.01" r="2.3" fill="none" stroke="#ec4048" stroke-width="0.9"/>
<circle cx="433.10" cy="225.77" r="2.3" fill="none" stroke="#ec4048" stroke-width="0.9"/>
<circle cx="434.24" cy="224.48" r="2.3" fill="none" stroke="#ec4048" stroke-width="0.9"/>
<circle cx="435.37" cy="224.59" r="2.3" fill="none" stroke="#ec4048" stroke-width="0.9"/>
<circle cx="436.51" cy="225.35" r="2.3" fill="none" stroke="#ec4048" stroke-width="0.9"/>
<circle cx="437.65" cy="225.16" r="2.3" fill="none" stroke="#ec4048" stroke-width="0.9"/>
<circle cx="438.78" cy="224.34" r="2.3" fill="none" stroke="#ec4048" stroke-width="0.9"/>
<circle cx="439.92" cy="223.52" r="2.3" fill="none" stroke="#ec4048" stroke-width="0.9"/>
<circle cx="441.06" cy="223.70" r="2.3" fill="none" stroke="#ec4048" stroke-width="0.9"/>
<circle cx="442.19" cy="223.92" r="2.3" fill="none" stroke="#ec4048" stroke-width="0.9"/>
<circle cx="443.33" cy="224.23" r="2.3" fill="none" stroke="#ec4048" stroke-width="0.9"/>
<circle cx="444.46" cy="223.75" r="2.3" fill="none" stroke="#ec4048" stroke-width="0.9"/>
<circle cx="445.60" cy="223.96" r="2.3" fill="none" stroke="#ec4048" stroke-width="0.9"/>
<circle cx="446.74" cy="222.46" r="2.3" fill="none" stroke="#ec4048" stroke-width="0.9"/>
<circle cx="447.87" cy="224.77" r="2.3" fill="none" stroke="#ec4048" stroke-width="0.9"/>
<circle cx="449.01" cy="224.28" r="2.3" fill="none" stroke="#ec4048" stroke-width="0.9"/>
<circle cx="450.14" cy="223.19" r="2.3" fill="none" stroke="#ec4048" stroke-width="0.9"/>
<circle cx="451.28" cy="224.30" r="2.3" fill="none" stroke="#ec4048" stroke-width="0.9"/>
<circle cx="452.42" cy="223.17" r="2.3" fill="none" stroke="#ec4048" stroke-width="0.9"/>
<circle cx="453.55" cy="224.22" r="2.3" fill="none" stroke="#ec4048" stroke-width="0.9"/>
<circle cx="454.69" cy="224.11" r="2.3" fill="none" stroke="#ec4048" stroke-width="0.9"/>
<circle cx="455.83" cy="224.46" r="2.3" fill="none" stroke="#ec4048" stroke-width="0.9"/>
<circle cx="456.96" cy="225.12" r="2.3" fill="none" stroke="#ec4048" stroke-width="0.9"/>
<circle cx="458.10" cy="224.78" r="2.3" fill="none" stroke="#ec4048" stroke-width="0.9"/>
<circle cx="459.23" cy="222.49" r="2.3" fill="none" stroke="#ec4048" stroke-width="0.9"/>
<circle cx="460.37" cy="223.48" r="2.3" fill="none" stroke="#ec4048" stroke-width="0.9"/>
<circle cx="461.51" cy="223.39" r="2.3" fill="none" stroke="#ec4048" stroke-width="0.9"/>
<circle cx="462.64" cy="223.03" r="2.3" fill="none" stroke="#ec4048" stroke-width="0.9"/>
<circle cx="463.78" cy="223.17" r="2.3" fill="none" stroke="#ec4048" stroke-width="0.9"/>
<circle cx="464.91" cy="222.73" r="2.3" fill="none" stroke="#ec4048" stroke-width="0.9"/>
<circle cx="466.05" cy="223.52" r="2.3" fill="none" stroke="#ec4048" stroke-width="0.9"/>
<circle cx="467.19" cy="223.40" r="2.3" fill="none" stroke="#ec4048" stroke-width="0.9"/>
<circle cx="468.32" cy="222.50" r="2.3" fill="none" stroke="#ec4048" stroke-width="0.9"/>
<circle cx="469.46" cy="223.40" r="2.3" fill="none" stroke="#ec4048" stroke-width="0.9"/>
<circle cx="470.60" cy="224.08" r="2.3" fill="none" stroke="#ec4048" stroke-width="0.9"/>
<circle cx="471.73" cy="223.35" r="2.3" fill="none" stroke="#ec4048" stroke-width="0.9"/>
<circle cx="472.87" cy="223.63" r="2.3" fill="none" stroke="#ec4048" stroke-width="0.9"/>
<circle cx="474.00" cy="222.92" r="2.3" fill="none" stroke="#ec4048" stroke-width="0.9"/>
<circle cx="475.14" cy="223.97" r="2.3" fill="none" stroke="#ec4048" stroke-width="0.9"/>
<circle cx="476.28" cy="224.34" r="2.3" fill="none" stroke="#ec4048" stroke-width="0.9"/>
<circle cx="477.41" cy="223.97" r="2.3" fill="none" stroke="#ec4048" stroke-width="0.9"/>
<circle cx="478.55" cy="222.81" r="2.3" fill="none" stroke="#ec4048" stroke-width="0.9"/>
<circle cx="479.69" cy="224.06" r="2.3" fill="none" stroke="#ec4048" stroke-width="0.9"/>
<circle cx="480.82" cy="224.04" r="2.3" fill="none" stroke="#ec4048" stroke-width="0.9"/>
<circle cx="481.96" cy="224.25" r="2.3" fill="none" stroke="#ec4048" stroke-width="0.9"/>
<circle cx="483.09" cy="224.13" r="2.3" fill="none" stroke="#ec4048" stroke-width="0.9"/>
<circle cx="484.23" cy="223.75" r="2.3" fill="none" stroke="#ec4048" stroke-width="0.9"/>
<circle cx="485.37" cy="223.46" r="2.3" fill="none" stroke="#ec4048" stroke-width="0.9"/>
<circle cx="486.50" cy="225.58" r="2.3" fill="none" stroke="#ec4048" stroke-width="0.9"/>
<circle cx="487.64" cy="223.49" r="2.3" fill="none" stroke="#ec4048" stroke-width="0.9"/>
<circle cx="488.77" cy="224.42" r="2.3" fill="none" stroke="#ec4048" stroke-width="0.9"/>
<circle cx="489.91" cy="224.62" r="2.3" fill="none" stroke="#ec4048" stroke-width="0.9"/>
<circle cx="491.05" cy="222.71" r="2.3" fill="none" stroke="#ec4048" stroke-width="0.9"/>
<circle cx="492.18" cy="224.47" r="2.3" fill="none" stroke="#ec4048" stroke-width="0.9"/>
<circle cx="493.32" cy="222.99" r="2.3" fill="none" stroke="#ec4048" stroke-width="0.9"/>
<circle cx="494.46" cy="223.68" r="2.3" fill="none" stroke="#ec4048" stroke-width="0.9"/>
<circle cx="495.59" cy="225.10" r="2.3" fill="none" stroke="#ec4048" stroke-width="0.9"/>
<circle cx="496.73" cy="224.09" r="2.3" fill="none" stroke="#ec4048" stroke-width="0.9"/>
<circle cx="497.86" cy="224.00" r="2.3" fill="none" stroke="#ec4048" stroke-width="0.9"/>
<circle cx="499.00" cy="224.69" r="2.3" fill="none" stroke="#ec4048" stroke-width="0.9"/>
<circle cx="500.14" cy="226.32" r="2.3" fill="none" stroke="#ec4048" stroke-width="0.9"/>
<circle cx="501.27" cy="225.06" r="2.3" fill="none" stroke="#ec4048" stroke-width="0.9"/>
<circle cx="502.41" cy="225.08" r="2.3" fill="none" stroke="#ec4048" stroke-width="0.9"/>
<circle cx="503.55" cy="225.83" r="2.3" fill="none" stroke="#ec4048" stroke-width="0.9"/>
<circle cx="504.68" cy="223.90" r="2.3" fill="none" stroke="#ec4048" stroke-width="0.9"/>
<circle cx="505.82" cy="225.43" r="2.3" fill="none" stroke="#ec4048" stroke-width="0.9"/>
<circle cx="506.95" cy="225.59" r="2.3" fill="none" stroke="#ec4048" stroke-width="0.9"/>
<circle cx="508.09" cy="225.56" r="2.3" fill="none" stroke="#ec4048" stroke-width="0.9"/>
<circle cx="509.23" cy="225.90" r="2.3" fill="none" stroke="#ec4048" stroke-width="0.9"/>
<circle cx="510.36" cy="225.87" r="2.3" fill="none" stroke="#ec4048" stroke-width="0.9"/>
<circle cx="511.50" cy="225.20" r="2.3" fill="none" stroke="#ec4048" stroke-width="0.9"/>
<circle cx="512.63" cy="224.96" r="2.3" fill="none" stroke="#ec4048" stroke-width="0.9"/>
<circle cx="513.77" cy="225.41" r="2.3" fill="none" stroke="#ec4048" stroke-width="0.9"/>
<circle cx="514.91" cy="224.99" r="2.3" fill="none" stroke="#ec4048" stroke-width="0.9"/>
<circle cx="516.04" cy="225.75" r="2.3" fill="none" stroke="#ec4048" stroke-width="0.9"/>
<circle cx="517.18" cy="224.29" r="2.3" fill="none" stroke="#ec4048" stroke-width="0.9"/>
<circle cx="518.32" cy="225.03" r="2.3" fill="none" stroke="#ec4048" stroke-width="0.9"/>
<circle cx="519.45" cy="224.24" r="2.3" fill="none" stroke="#ec4048" stroke-width="0.9"/>
<circle cx="520.59" cy="224.91" r="2.3" fill="none" stroke="#ec4048" stroke-width="0.9"/>
<circle cx="521.72" cy="224.56" r="2.3" fill="none" stroke="#ec4048" stroke-width="0.9"/>
<circle cx="522.86" cy="224.00" r="2.3" fill="none" stroke="#ec4048" stroke-width="0.9"/>
<circle cx="524.00" cy="224.96" r="2.3" fill="none" stroke="#ec4048" stroke-width="0.9"/>
<circle cx="525.13" cy="222.41" r="2.3" fill="none" stroke="#ec4048" stroke-width="0.9"/>
<circle cx="526.27" cy="224.17" r="2.3" fill="none" stroke="#ec4048" stroke-width="0.9"/>
<circle cx="527.40" cy="224.24" r="2.3" fill="none" stroke="#ec4048" stroke-width="0.9"/>
<circle cx="528.54" cy="224.75" r="2.3" fill="none" stroke="#ec4048" stroke-width="0.9"/>
<circle cx="529.68" cy="223.20" r="2.3" fill="none" stroke="#ec4048" stroke-width="0.9"/>
<circle cx="530.81" cy="223.40" r="2.3" fill="none" stroke="#ec4048" stroke-width="0.9"/>
<circle cx="531.95" cy="224.20" r="2.3" fill="none" stroke="#ec4048" stroke-width="0.9"/>
<circle cx="533.09" cy="225.40" r="2.3" fill="none" stroke="#ec4048" stroke-width="0.9"/>
<circle cx="534.22" cy="224.82" r="2.3" fill="none" stroke="#ec4048" stroke-width="0.9"/>
<circle cx="535.36" cy="224.05" r="2.3" fill="none" stroke="#ec4048" stroke-width="0.9"/>
<circle cx="536.49" cy="224.81" r="2.3" fill="none" stroke="#ec4048" stroke-width="0.9"/>
<circle cx="537.63" cy="225.24" r="2.3" fill="none" stroke="#ec4048" stroke-width="0.9"/>
<circle cx="538.77" cy="225.19" r="2.3" fill="none" stroke="#ec4048" stroke-width="0.9"/>
<circle cx="539.90" cy="224.84" r="2.3" fill="none" stroke="#ec4048" stroke-width="0.9"/>
<circle cx="541.04" cy="224.22" r="2.3" fill="none" stroke="#ec4048" stroke-width="0.9"/>
<circle cx="542.18" cy="224.61" r="2.3" fill="none" stroke="#ec4048" stroke-width="0.9"/>
<circle cx="543.31" cy="224.09" r="2.3" fill="none" stroke="#ec4048" stroke-width="0.9"/>
<circle cx="544.45" cy="222.12" r="2.3" fill="none" stroke="#ec4048" stroke-width="0.9"/>
<circle cx="545.58" cy="222.80" r="2.3" fill="none" stroke="#ec4048" stroke-width="0.9"/>
<circle cx="546.72" cy="224.75" r="2.3" fill="none" stroke="#ec4048" stroke-width="0.9"/>
<circle cx="547.86" cy="223.82" r="2.3" fill="none" stroke="#ec4048" stroke-width="0.9"/>
<circle cx="548.99" cy="224.06" r="2.3" fill="none" stroke="#ec4048" stroke-width="0.9"/>
<circle cx="550.13" cy="224.31" r="2.3" fill="none" stroke="#ec4048" stroke-width="0.9"/>
<circle cx="551.26" cy="223.61" r="2.3" fill="none" stroke="#ec4048" stroke-width="0.9"/>
<circle cx="552.40" cy="224.70" r="2.3" fill="none" stroke="#ec4048" stroke-width="0.9"/>
<circle cx="553.54" cy="224.86" r="2.3" fill="none" stroke="#ec4048" stroke-width="0.9"/>
<circle cx="554.67" cy="225.06" r="2.3" fill="none" stroke="#ec4048" stroke-width="0.9"/>
<circle cx="555.81" cy="225.04" r="2.3" fill="none" stroke="#ec4048" stroke-width="0.9"/>
<circle cx="556.95" cy="224.25" r="2.3" fill="none" stroke="#ec4048" stroke-width="0.9"/>
<circle cx="558.08" cy="224.75" r="2.3" fill="none" stroke="#ec4048" stroke-width="0.9"/>
<circle cx="559.22" cy="226.35" r="2.3" fill="none" stroke="#ec4048" stroke-width="0.9"/>
<circle cx="560.35" cy="225.83" r="2.3" fill="none" stroke="#ec4048" stroke-width="0.9"/>
<circle cx="561.49" cy="226.16" r="2.3" fill="none" stroke="#ec4048" stroke-width="0.9"/>
<circle cx="562.63" cy="225.08" r="2.3" fill="none" stroke="#ec4048" stroke-width="0.9"/>
<circle cx="563.76" cy="225.51" r="2.3" fill="none" stroke="#ec4048" stroke-width="0.9"/>
<circle cx="564.90" cy="225.04" r="2.3" fill="none" stroke="#ec4048" stroke-width="0.9"/>
<circle cx="566.04" cy="225.67" r="2.3" fill="none" stroke="#ec4048" stroke-width="0.9"/>
<circle cx="567.17" cy="226.90" r="2.3" fill="none" stroke="#ec4048" stroke-width="0.9"/>
<circle cx="568.31" cy="225.20" r="2.3" fill="none" stroke="#ec4048" stroke-width="0.9"/>
<circle cx="569.44" cy="225.29" r="2.3" fill="none" stroke="#ec4048" stroke-width="0.9"/>
<circle cx="570.58" cy="225.03" r="2.3" fill="none" stroke="#ec4048" stroke-width="0.9"/>
<circle cx="571.72" cy="226.23" r="2.3" fill="none" stroke="#ec4048" stroke-width="0.9"/>
<circle cx="572.85" cy="225.24" r="2.3" fill="none" stroke="#ec4048" stroke-width="0.9"/>
<circle cx="573.99" cy="225.75" r="2.3" fill="none" stroke="#ec4048" stroke-width="0.9"/>
<circle cx="575.12" cy="225.75" r="2.3" fill="none" stroke="#ec4048" stroke-width="0.9"/>
<circle cx="576.26" cy="225.05" r="2.3" fill="none" stroke="#ec4048" stroke-width="0.9"/>
<circle cx="577.40" cy="225.09" r="2.3" fill="none" stroke="#ec4048" stroke-width="0.9"/>
<circle cx="578.53" cy="226.00" r="2.3" fill="none" stroke="#ec4048" stroke-width="0.9"/>
<circle cx="579.67" cy="226.63" r="2.3" fill="none" stroke="#ec4048" stroke-width="0.9"/>
<circle cx="580.81" cy="227.23" r="2.3" fill="none" stroke="#ec4048" stroke-width="0.9"/>
<circle cx="581.94" cy="225.97" r="2.3" fill="none" stroke="#ec4048" stroke-width="0.9"/>
<circle cx="583.08" cy="224.84" r="2.3" fill="none" stroke="#ec4048" stroke-width="0.9"/>
<circle cx="584.21" cy="225.70" r="2.3" fill="none" stroke="#ec4048" stroke-width="0.9"/>
<circle cx="585.35" cy="227.23" r="2.3" fill="none" stroke="#ec4048" stroke-width="0.9"/>
<circle cx="586.49" cy="226.25" r="2.3" fill="none" stroke="#ec4048" stroke-width="0.9"/>
<circle cx="587.62" cy="225.32" r="2.3" fill="none" stroke="#ec4048" stroke-width="0.9"/>
<circle cx="588.76" cy="224.39" r="2.3" fill="none" stroke="#ec4048" stroke-width="0.9"/>
<circle cx="589.89" cy="224.64" r="2.3" fill="none" stroke="#ec4048" stroke-width="0.9"/>
<circle cx="591.03" cy="225.08" r="2.3" fill="none" stroke="#ec4048" stroke-width="0.9"/>
<circle cx="592.17" cy="225.06" r="2.3" fill="none" stroke="#ec4048" stroke-width="0.9"/>
<circle cx="593.30" cy="225.79" r="2.3" fill="none" stroke="#ec4048" stroke-width="0.9"/>
<circle cx="594.44" cy="225.23" r="2.3" fill="none" stroke="#ec4048" stroke-width="0.9"/>
<circle cx="595.58" cy="225.00" r="2.3" fill="none" stroke="#ec4048" stroke-width="0.9"/>
<circle cx="596.71" cy="225.18" r="2.3" fill="none" stroke="#ec4048" stroke-width="0.9"/>
<circle cx="597.85" cy="224.50" r="2.3" fill="none" stroke="#ec4048" stroke-width="0.9"/>
<circle cx="598.98" cy="224.74" r="2.3" fill="none" stroke="#ec4048" stroke-width="0.9"/>
<circle cx="600.12" cy="224.18" r="2.3" fill="none" stroke="#ec4048" stroke-width="0.9"/>
<circle cx="601.26" cy="223.40" r="2.3" fill="none" stroke="#ec4048" stroke-width="0.9"/>
<circle cx="602.39" cy="223.90" r="2.3" fill="none" stroke="#ec4048" stroke-width="0.9"/>
<circle cx="603.53" cy="224.17" r="2.3" fill="none" stroke="#ec4048" stroke-width="0.9"/>
<circle cx="604.67" cy="224.70" r="2.3" fill="none" stroke="#ec4048" stroke-width="0.9"/>
<circle cx="605.80" cy="225.68" r="2.3" fill="none" stroke="#ec4048" stroke-width="0.9"/>
<circle cx="606.94" cy="224.81" r="2.3" fill="none" stroke="#ec4048" stroke-width="0.9"/>
<circle cx="608.07" cy="224.47" r="2.3" fill="none" stroke="#ec4048" stroke-width="0.9"/>
<circle cx="609.21" cy="225.66" r="2.3" fill="none" stroke="#ec4048" stroke-width="0.9"/>
<circle cx="610.35" cy="224.20" r="2.3" fill="none" stroke="#ec4048" stroke-width="0.9"/>
<circle cx="611.48" cy="225.39" r="2.3" fill="none" stroke="#ec4048" stroke-width="0.9"/>
<circle cx="612.62" cy="224.98" r="2.3" fill="none" stroke="#ec4048" stroke-width="0.9"/>
<circle cx="613.75" cy="225.52" r="2.3" fill="none" stroke="#ec4048" stroke-width="0.9"/>
<circle cx="614.89" cy="226.20" r="2.3" fill="none" stroke="#ec4048" stroke-width="0.9"/>
<circle cx="616.03" cy="223.91" r="2.3" fill="none" stroke="#ec4048" stroke-width="0.9"/>
<circle cx="617.16" cy="226.14" r="2.3" fill="none" stroke="#ec4048" stroke-width="0.9"/>
<circle cx="618.30" cy="224.68" r="2.3" fill="none" stroke="#ec4048" stroke-width="0.9"/>
<circle cx="619.44" cy="225.68" r="2.3" fill="none" stroke="#ec4048" stroke-width="0.9"/>
<circle cx="620.57" cy="225.07" r="2.3" fill="none" stroke="#ec4048" stroke-width="0.9"/>
<circle cx="621.71" cy="225.80" r="2.3" fill="none" stroke="#ec4048" stroke-width="0.9"/>
<circle cx="622.84" cy="225.52" r="2.3" fill="none" stroke="#ec4048" stroke-width="0.9"/>
<circle cx="623.98" cy="224.60" r="2.3" fill="none" stroke="#ec4048" stroke-width="0.9"/>
<circle cx="625.12" cy="223.91" r="2.3" fill="none" stroke="#ec4048" stroke-width="0.9"/>
<circle cx="626.25" cy="225.90" r="2.3" fill="none" stroke="#ec4048" stroke-width="0.9"/>
<circle cx="627.39" cy="225.38" r="2.3" fill="none" stroke="#ec4048" stroke-width="0.9"/>
<circle cx="628.53" cy="224.83" r="2.3" fill="none" stroke="#ec4048" stroke-width="0.9"/>
<circle cx="629.66" cy="226.05" r="2.3" fill="none" stroke="#ec4048" stroke-width="0.9"/>
<circle cx="630.80" cy="225.25" r="2.3" fill="none" stroke="#ec4048" stroke-width="0.9"/>
<circle cx="631.93" cy="226.44" r="2.3" fill="none" stroke="#ec4048" stroke-width="0.9"/>
<circle cx="633.07" cy="225.62" r="2.3" fill="none" stroke="#ec4048" stroke-width="0.9"/>
<circle cx="634.21" cy="225.88" r="2.3" fill="none" stroke="#ec4048" stroke-width="0.9"/>
<circle cx="635.34" cy="225.47" r="2.3" fill="none" stroke="#ec4048" stroke-width="0.9"/>
<circle cx="636.48" cy="226.17" r="2.3" fill="none" stroke="#ec4048" stroke-width="0.9"/>
<circle cx="637.61" cy="227.34" r="2.3" fill="none" stroke="#ec4048" stroke-width="0.9"/>
<circle cx="638.75" cy="226.10" r="2.3" fill="none" stroke="#ec4048" stroke-width="0.9"/>
<circle cx="639.89" cy="227.35" r="2.3" fill="none" stroke="#ec4048" stroke-width="0.9"/>
<circle cx="641.02" cy="226.05" r="2.3" fill="none" stroke="#ec4048" stroke-width="0.9"/>
<circle cx="642.16" cy="225.48" r="2.3" fill="none" stroke="#ec4048" stroke-width="0.9"/>
<circle cx="643.30" cy="226.05" r="2.3" fill="none" stroke="#ec4048" stroke-width="0.9"/>
<circle cx="644.43" cy="226.75" r="2.3" fill="none" stroke="#ec4048" stroke-width="0.9"/>
<circle cx="645.57" cy="225.43" r="2.3" fill="none" stroke="#ec4048" stroke-width="0.9"/>
<circle cx="646.70" cy="226.02" r="2.3" fill="none" stroke="#ec4048" stroke-width="0.9"/>
<circle cx="647.84" cy="226.87" r="2.3" fill="none" stroke="#ec4048" stroke-width="0.9"/>
<circle cx="648.98" cy="226.14" r="2.3" fill="none" stroke="#ec4048" stroke-width="0.9"/>
<circle cx="650.11" cy="224.81" r="2.3" fill="none" stroke="#ec4048" stroke-width="0.9"/>
<circle cx="651.25" cy="225.92" r="2.3" fill="none" stroke="#ec4048" stroke-width="0.9"/>
<circle cx="652.38" cy="225.56" r="2.3" fill="none" stroke="#ec4048" stroke-width="0.9"/>
<circle cx="653.52" cy="225.84" r="2.3" fill="none" stroke="#ec4048" stroke-width="0.9"/>
<circle cx="654.66" cy="226.75" r="2.3" fill="none" stroke="#ec4048" stroke-width="0.9"/>
<circle cx="655.79" cy="225.95" r="2.3" fill="none" stroke="#ec4048" stroke-width="0.9"/>
<circle cx="656.93" cy="225.37" r="2.3" fill="none" stroke="#ec4048" stroke-width="0.9"/>
<circle cx="658.07" cy="225.51" r="2.3" fill="none" stroke="#ec4048" stroke-width="0.9"/>
<circle cx="659.20" cy="225.82" r="2.3" fill="none" stroke="#ec4048" stroke-width="0.9"/>
<circle cx="660.34" cy="227.22" r="2.3" fill="none" stroke="#ec4048" stroke-width="0.9"/>
<circle cx="661.47" cy="224.94" r="2.3" fill="none" stroke="#ec4048" stroke-width="0.9"/>
<circle cx="662.61" cy="225.31" r="2.3" fill="none" stroke="#ec4048" stroke-width="0.9"/>
<circle cx="663.75" cy="225.12" r="2.3" fill="none" stroke="#ec4048" stroke-width="0.9"/>
<circle cx="664.88" cy="224.91" r="2.3" fill="none" stroke="#ec4048" stroke-width="0.9"/>
<circle cx="666.02" cy="226.09" r="2.3" fill="none" stroke="#ec4048" stroke-width="0.9"/>
<circle cx="667.16" cy="226.15" r="2.3" fill="none" stroke="#ec4048" stroke-width="0.9"/>
<circle cx="668.29" cy="225.44" r="2.3" fill="none" stroke="#ec4048" stroke-width="0.9"/>
<circle cx="669.43" cy="224.41" r="2.3" fill="none" stroke="#ec4048" stroke-width="0.9"/>
<circle cx="670.56" cy="226.64" r="2.3" fill="none" stroke="#ec4048" stroke-width="0.9"/>
<circle cx="671.70" cy="225.53" r="2.3" fill="none" stroke="#ec4048" stroke-width="0.9"/>
</g>
<rect x="46.80" y="209.30" width="624.90" height="131.50" fill="none" stroke="#464646" stroke-width="1.0"/>
<line x1="43.60" y1="340.80" x2="46.80" y2="340.80" stroke="#464646" stroke-width="1.1" />
<line x1="43.60" y1="316.89" x2="46.80" y2="316.89" stroke="#464646" stroke-width="1.1" />
<line x1="43.60" y1="292.98" x2="46.80" y2="292.98" stroke="#464646" stroke-width="1.1" />
<line x1="43.60" y1="269.07" x2="46.80" y2="269.07" stroke="#464646" stroke-width="1.1" />
<line x1="43.60" y1="245.16" x2="46.80" y2="245.16" stroke="#464646" stroke-width="1.1" />
<line x1="43.60" y1="221.25" x2="46.80" y2="221.25" stroke="#464646" stroke-width="1.1" />
<line x1="45.00" y1="328.85" x2="46.80" y2="328.85" stroke="#464646" stroke-width="1.1" />
<line x1="45.00" y1="304.94" x2="46.80" y2="304.94" stroke="#464646" stroke-width="1.1" />
<line x1="45.00" y1="281.03" x2="46.80" y2="281.03" stroke="#464646" stroke-width="1.1" />
<line x1="45.00" y1="257.12" x2="46.80" y2="257.12" stroke="#464646" stroke-width="1.1" />
<line x1="45.00" y1="233.21" x2="46.80" y2="233.21" stroke="#464646" stroke-width="1.1" />
<text x="40.20" y="344.78" font-size="12.8" text-anchor="end" fill="#111" >0.0</text>
<text x="40.20" y="320.87" font-size="12.8" text-anchor="end" fill="#111" >0.2</text>
<text x="40.20" y="296.96" font-size="12.8" text-anchor="end" fill="#111" >0.4</text>
<text x="40.20" y="273.06" font-size="12.8" text-anchor="end" fill="#111" >0.6</text>
<text x="40.20" y="249.15" font-size="12.8" text-anchor="end" fill="#111" >0.8</text>
<text x="40.20" y="225.24" font-size="12.8" text-anchor="end" fill="#111" >1.0</text>
<line x1="46.80" y1="340.80" x2="46.80" y2="344.00" stroke="#464646" stroke-width="1.1" />
<line x1="160.42" y1="340.80" x2="160.42" y2="344.00" stroke="#464646" stroke-width="1.1" />
<line x1="274.04" y1="340.80" x2="274.04" y2="344.00" stroke="#464646" stroke-width="1.1" />
<line x1="387.65" y1="340.80" x2="387.65" y2="344.00" stroke="#464646" stroke-width="1.1" />
<line x1="501.27" y1="340.80" x2="501.27" y2="344.00" stroke="#464646" stroke-width="1.1" />
<line x1="614.89" y1="340.80" x2="614.89" y2="344.00" stroke="#464646" stroke-width="1.1" />
<line x1="103.61" y1="340.80" x2="103.61" y2="342.60" stroke="#464646" stroke-width="1.1" />
<line x1="217.23" y1="340.80" x2="217.23" y2="342.60" stroke="#464646" stroke-width="1.1" />
<line x1="330.85" y1="340.80" x2="330.85" y2="342.60" stroke="#464646" stroke-width="1.1" />
<line x1="444.46" y1="340.80" x2="444.46" y2="342.60" stroke="#464646" stroke-width="1.1" />
<line x1="558.08" y1="340.80" x2="558.08" y2="342.60" stroke="#464646" stroke-width="1.1" />
<line x1="671.70" y1="340.80" x2="671.70" y2="342.60" stroke="#464646" stroke-width="1.1" />
<text x="46.80" y="358.40" font-size="12.8" text-anchor="middle" fill="#111" >0</text>
<text x="160.42" y="358.40" font-size="12.8" text-anchor="middle" fill="#111" >200</text>
<text x="274.04" y="358.40" font-size="12.8" text-anchor="middle" fill="#111" >400</text>
<text x="387.65" y="358.40" font-size="12.8" text-anchor="middle" fill="#111" >600</text>
<text x="501.27" y="358.40" font-size="12.8" text-anchor="middle" fill="#111" >800</text>
<text x="614.89" y="358.40" font-size="12.8" text-anchor="middle" fill="#111" >1000</text>
<text x="669.60" y="221.90" font-size="13.4" text-anchor="end" fill="#111" >95.4%</text>
<text x="303.90" y="334.20" font-size="12.85" text-anchor="start" fill="#111" >MPP tracking in N<tspan font-size="8.5" dy="3">2</tspan><tspan dy="-3"> under 50<tspan dx="-0.7">°</tspan><tspan dx="-0.5">C</tspan></tspan></text>
<text x="359.30" y="371.50" font-size="13.0" text-anchor="middle" fill="#111" >Time (hour)</text>
<text transform="translate(17.00,275.00) rotate(-90)" x="0" y="0" font-size="13.0" text-anchor="middle" fill="#111">Normalized PCE</text>
<text x="3.80" y="207.00" font-size="16.5" text-anchor="start" fill="#000" font-weight="bold" >d</text>
<line x1="83.10" y1="267.40" x2="105.80" y2="267.40" stroke="#555" stroke-width="1.1" />
<circle cx="94.45" cy="267.40" r="2.4" fill="#4a4a4a"/>
<circle cx="93.85" cy="266.80" r="0.7" fill="#bbb" opacity="0.8"/>
<text x="108.30" y="270.70" font-size="13.0" text-anchor="start" fill="#111" >Control</text>
<line x1="83.10" y1="283.40" x2="105.80" y2="283.40" stroke="#ee3b43" stroke-width="1.1" />
<circle cx="94.45" cy="283.40" r="2.4" fill="#ee3b43"/>
<circle cx="93.85" cy="282.80" r="0.7" fill="#fcc" opacity="0.8"/>
<text x="109.10" y="287.00" font-size="13.0" text-anchor="start" fill="#111" >D18</text>
<clipPath id="ce"><rect x="51.4" y="381.6" width="618.9" height="130.79999999999995"/></clipPath><g clip-path="url(#ce)">
<polyline points="51.40,403.10 69.60,400.00 89.50,411.30 110.80,442.20 164.30,444.70 239.30,458.40 390.40,461.90 547.60,472.40 662.50,481.30" fill="none" stroke="#444" stroke-width="0.95" stroke-linejoin="round" />
<polyline points="51.40,403.10 69.60,402.30 89.50,399.20 110.80,399.20 164.30,404.00 239.30,411.00 390.40,418.00 547.60,418.20 662.50,420.30" fill="none" stroke="#ee3b43" stroke-width="0.9" stroke-linejoin="round" />
<circle cx="51.40" cy="403.10" r="2.5" fill="#4a4a4a"/>
<circle cx="50.65" cy="402.35" r="0.83" fill="#bbb" opacity="0.8"/>
<circle cx="69.60" cy="400.00" r="2.5" fill="#4a4a4a"/>
<circle cx="68.85" cy="399.25" r="0.83" fill="#bbb" opacity="0.8"/>
<circle cx="89.50" cy="411.30" r="2.5" fill="#4a4a4a"/>
<circle cx="88.75" cy="410.55" r="0.83" fill="#bbb" opacity="0.8"/>
<circle cx="110.80" cy="442.20" r="2.5" fill="#4a4a4a"/>
<circle cx="110.05" cy="441.45" r="0.83" fill="#bbb" opacity="0.8"/>
<circle cx="164.30" cy="444.70" r="2.5" fill="#4a4a4a"/>
<circle cx="163.55" cy="443.95" r="0.83" fill="#bbb" opacity="0.8"/>
<circle cx="239.30" cy="458.40" r="2.5" fill="#4a4a4a"/>
<circle cx="238.55" cy="457.65" r="0.83" fill="#bbb" opacity="0.8"/>
<circle cx="390.40" cy="461.90" r="2.5" fill="#4a4a4a"/>
<circle cx="389.65" cy="461.15" r="0.83" fill="#bbb" opacity="0.8"/>
<circle cx="547.60" cy="472.40" r="2.5" fill="#4a4a4a"/>
<circle cx="546.85" cy="471.65" r="0.83" fill="#bbb" opacity="0.8"/>
<circle cx="662.50" cy="481.30" r="2.5" fill="#4a4a4a"/>
<circle cx="661.75" cy="480.55" r="0.83" fill="#bbb" opacity="0.8"/>
<circle cx="51.40" cy="403.10" r="2.5" fill="#ee3b43"/>
<circle cx="50.65" cy="402.35" r="0.83" fill="#fcc" opacity="0.8"/>
<circle cx="69.60" cy="402.30" r="2.5" fill="#ee3b43"/>
<circle cx="68.85" cy="401.55" r="0.83" fill="#fcc" opacity="0.8"/>
<circle cx="89.50" cy="399.20" r="2.5" fill="#ee3b43"/>
<circle cx="88.75" cy="398.45" r="0.83" fill="#fcc" opacity="0.8"/>
<circle cx="110.80" cy="399.20" r="2.5" fill="#ee3b43"/>
<circle cx="110.05" cy="398.45" r="0.83" fill="#fcc" opacity="0.8"/>
<circle cx="164.30" cy="404.00" r="2.5" fill="#ee3b43"/>
<circle cx="163.55" cy="403.25" r="0.83" fill="#fcc" opacity="0.8"/>
<circle cx="239.30" cy="411.00" r="2.5" fill="#ee3b43"/>
<circle cx="238.55" cy="410.25" r="0.83" fill="#fcc" opacity="0.8"/>
<circle cx="390.40" cy="418.00" r="2.5" fill="#ee3b43"/>
<circle cx="389.65" cy="417.25" r="0.83" fill="#fcc" opacity="0.8"/>
<circle cx="547.60" cy="418.20" r="2.5" fill="#ee3b43"/>
<circle cx="546.85" cy="417.45" r="0.83" fill="#fcc" opacity="0.8"/>
<circle cx="662.50" cy="420.30" r="2.5" fill="#ee3b43"/>
<circle cx="661.75" cy="419.55" r="0.83" fill="#fcc" opacity="0.8"/>
</g>
<rect x="51.40" y="381.60" width="618.90" height="130.80" fill="none" stroke="#464646" stroke-width="1.0"/>
<line x1="48.20" y1="512.40" x2="51.40" y2="512.40" stroke="#464646" stroke-width="1.1" />
<line x1="48.20" y1="490.60" x2="51.40" y2="490.60" stroke="#464646" stroke-width="1.1" />
<line x1="48.20" y1="468.80" x2="51.40" y2="468.80" stroke="#464646" stroke-width="1.1" />
<line x1="48.20" y1="447.00" x2="51.40" y2="447.00" stroke="#464646" stroke-width="1.1" />
<line x1="48.20" y1="425.20" x2="51.40" y2="425.20" stroke="#464646" stroke-width="1.1" />
<line x1="48.20" y1="403.40" x2="51.40" y2="403.40" stroke="#464646" stroke-width="1.1" />
<line x1="48.20" y1="381.60" x2="51.40" y2="381.60" stroke="#464646" stroke-width="1.1" />
<line x1="49.60" y1="501.50" x2="51.40" y2="501.50" stroke="#464646" stroke-width="1.1" />
<line x1="49.60" y1="479.70" x2="51.40" y2="479.70" stroke="#464646" stroke-width="1.1" />
<line x1="49.60" y1="457.90" x2="51.40" y2="457.90" stroke="#464646" stroke-width="1.1" />
<line x1="49.60" y1="436.10" x2="51.40" y2="436.10" stroke="#464646" stroke-width="1.1" />
<line x1="49.60" y1="414.30" x2="51.40" y2="414.30" stroke="#464646" stroke-width="1.1" />
<line x1="49.60" y1="392.50" x2="51.40" y2="392.50" stroke="#464646" stroke-width="1.1" />
<text x="45.90" y="516.38" font-size="12.8" text-anchor="end" fill="#111" >0.0</text>
<text x="45.90" y="494.58" font-size="12.8" text-anchor="end" fill="#111" >0.2</text>
<text x="45.90" y="472.78" font-size="12.8" text-anchor="end" fill="#111" >0.4</text>
<text x="45.90" y="450.98" font-size="12.8" text-anchor="end" fill="#111" >0.6</text>
<text x="45.90" y="429.18" font-size="12.8" text-anchor="end" fill="#111" >0.8</text>
<text x="45.90" y="407.38" font-size="12.8" text-anchor="end" fill="#111" >1.0</text>
<text x="45.90" y="385.58" font-size="12.8" text-anchor="end" fill="#111" >1.2</text>
<line x1="51.40" y1="512.40" x2="51.40" y2="515.60" stroke="#464646" stroke-width="1.1" />
<line x1="204.20" y1="512.40" x2="204.20" y2="515.60" stroke="#464646" stroke-width="1.1" />
<line x1="357.00" y1="512.40" x2="357.00" y2="515.60" stroke="#464646" stroke-width="1.1" />
<line x1="509.80" y1="512.40" x2="509.80" y2="515.60" stroke="#464646" stroke-width="1.1" />
<line x1="662.60" y1="512.40" x2="662.60" y2="515.60" stroke="#464646" stroke-width="1.1" />
<line x1="127.80" y1="512.40" x2="127.80" y2="514.20" stroke="#464646" stroke-width="1.1" />
<line x1="280.60" y1="512.40" x2="280.60" y2="514.20" stroke="#464646" stroke-width="1.1" />
<line x1="433.40" y1="512.40" x2="433.40" y2="514.20" stroke="#464646" stroke-width="1.1" />
<line x1="586.20" y1="512.40" x2="586.20" y2="514.20" stroke="#464646" stroke-width="1.1" />
<text x="51.40" y="528.20" font-size="12.8" text-anchor="middle" fill="#111" >0</text>
<text x="204.20" y="528.20" font-size="12.8" text-anchor="middle" fill="#111" >200</text>
<text x="357.00" y="528.20" font-size="12.8" text-anchor="middle" fill="#111" >400</text>
<text x="509.80" y="528.20" font-size="12.8" text-anchor="middle" fill="#111" >600</text>
<text x="662.60" y="528.20" font-size="12.8" text-anchor="middle" fill="#111" >800</text>
<text x="315.00" y="504.20" font-size="12.85" text-anchor="start" fill="#111" >Thermal stress under 85<tspan dx="-0.7">°</tspan><tspan dx="-0.5">C</tspan></text>
<text x="361.10" y="541.20" font-size="13.0" text-anchor="middle" fill="#111" >Time (hour)</text>
<text transform="translate(19.00,447.20) rotate(-90)" x="0" y="0" font-size="13.0" text-anchor="middle" fill="#111">Normalized PCE</text>
<text x="3.80" y="376.40" font-size="16.5" text-anchor="start" fill="#000" font-weight="bold" >e</text>
<line x1="81.90" y1="480.50" x2="98.90" y2="480.50" stroke="#555" stroke-width="1.1" />
<circle cx="90.40" cy="480.50" r="2.0" fill="#4a4a4a"/>
<circle cx="89.80" cy="479.90" r="0.7" fill="#bbb" opacity="0.8"/>
<text x="101.10" y="483.10" font-size="13.0" text-anchor="start" fill="#111" >Control</text>
<line x1="81.90" y1="496.10" x2="98.90" y2="496.10" stroke="#ee3b43" stroke-width="1.1" />
<circle cx="90.40" cy="496.10" r="2.0" fill="#ee3b43"/>
<circle cx="89.80" cy="495.50" r="0.7" fill="#fcc" opacity="0.8"/>
<text x="102.30" y="498.70" font-size="13.0" text-anchor="start" fill="#111" >D18</text>
<clipPath id="cf"><rect x="52.7" y="552.3" width="619.3" height="131.0"/></clipPath><g clip-path="url(#cf)">
<polyline points="58.40,568.50 90.40,564.70 163.30,568.90 215.60,574.90 268.00,573.50 387.60,585.60 478.00,599.40 574.00,604.80 670.20,605.30" fill="none" stroke="#444" stroke-width="0.95" stroke-linejoin="round" />
<polyline points="58.40,561.20 90.40,556.50 163.30,556.10 215.60,556.00 268.00,558.30 387.60,560.40 478.00,559.00 574.00,561.80 670.20,562.30" fill="none" stroke="#ee3b43" stroke-width="0.9" stroke-linejoin="round" />
<circle cx="58.40" cy="568.50" r="2.35" fill="#4a4a4a"/>
<circle cx="57.70" cy="567.79" r="0.78" fill="#bbb" opacity="0.8"/>
<circle cx="90.40" cy="564.70" r="2.35" fill="#4a4a4a"/>
<circle cx="89.70" cy="564.00" r="0.78" fill="#bbb" opacity="0.8"/>
<circle cx="163.30" cy="568.90" r="2.35" fill="#4a4a4a"/>
<circle cx="162.59" cy="568.19" r="0.78" fill="#bbb" opacity="0.8"/>
<circle cx="215.60" cy="574.90" r="2.35" fill="#4a4a4a"/>
<circle cx="214.89" cy="574.19" r="0.78" fill="#bbb" opacity="0.8"/>
<circle cx="268.00" cy="573.50" r="2.35" fill="#4a4a4a"/>
<circle cx="267.30" cy="572.79" r="0.78" fill="#bbb" opacity="0.8"/>
<circle cx="387.60" cy="585.60" r="2.35" fill="#4a4a4a"/>
<circle cx="386.90" cy="584.89" r="0.78" fill="#bbb" opacity="0.8"/>
<circle cx="478.00" cy="599.40" r="2.35" fill="#4a4a4a"/>
<circle cx="477.30" cy="598.69" r="0.78" fill="#bbb" opacity="0.8"/>
<circle cx="574.00" cy="604.80" r="2.35" fill="#4a4a4a"/>
<circle cx="573.29" cy="604.09" r="0.78" fill="#bbb" opacity="0.8"/>
<circle cx="670.20" cy="605.30" r="2.35" fill="#4a4a4a"/>
<circle cx="669.50" cy="604.59" r="0.78" fill="#bbb" opacity="0.8"/>
<circle cx="58.40" cy="561.20" r="2.35" fill="#ee3b43"/>
<circle cx="57.70" cy="560.50" r="0.78" fill="#fcc" opacity="0.8"/>
<circle cx="90.40" cy="556.50" r="2.35" fill="#ee3b43"/>
<circle cx="89.70" cy="555.79" r="0.78" fill="#fcc" opacity="0.8"/>
<circle cx="163.30" cy="556.10" r="2.35" fill="#ee3b43"/>
<circle cx="162.59" cy="555.39" r="0.78" fill="#fcc" opacity="0.8"/>
<circle cx="215.60" cy="556.00" r="2.35" fill="#ee3b43"/>
<circle cx="214.89" cy="555.29" r="0.78" fill="#fcc" opacity="0.8"/>
<circle cx="268.00" cy="558.30" r="2.35" fill="#ee3b43"/>
<circle cx="267.30" cy="557.59" r="0.78" fill="#fcc" opacity="0.8"/>
<circle cx="387.60" cy="560.40" r="2.35" fill="#ee3b43"/>
<circle cx="386.90" cy="559.69" r="0.78" fill="#fcc" opacity="0.8"/>
<circle cx="478.00" cy="559.00" r="2.35" fill="#ee3b43"/>
<circle cx="477.30" cy="558.29" r="0.78" fill="#fcc" opacity="0.8"/>
<circle cx="574.00" cy="561.80" r="2.35" fill="#ee3b43"/>
<circle cx="573.29" cy="561.09" r="0.78" fill="#fcc" opacity="0.8"/>
<circle cx="670.20" cy="562.30" r="2.35" fill="#ee3b43"/>
<circle cx="669.50" cy="561.59" r="0.78" fill="#fcc" opacity="0.8"/>
</g>
<rect x="52.70" y="552.30" width="619.30" height="131.00" fill="none" stroke="#464646" stroke-width="1.0"/>
<line x1="49.50" y1="683.30" x2="52.70" y2="683.30" stroke="#464646" stroke-width="1.1" />
<line x1="49.50" y1="657.07" x2="52.70" y2="657.07" stroke="#464646" stroke-width="1.1" />
<line x1="49.50" y1="630.85" x2="52.70" y2="630.85" stroke="#464646" stroke-width="1.1" />
<line x1="49.50" y1="604.62" x2="52.70" y2="604.62" stroke="#464646" stroke-width="1.1" />
<line x1="49.50" y1="578.40" x2="52.70" y2="578.40" stroke="#464646" stroke-width="1.1" />
<line x1="49.50" y1="552.17" x2="52.70" y2="552.17" stroke="#464646" stroke-width="1.1" />
<line x1="50.90" y1="670.19" x2="52.70" y2="670.19" stroke="#464646" stroke-width="1.1" />
<line x1="50.90" y1="643.96" x2="52.70" y2="643.96" stroke="#464646" stroke-width="1.1" />
<line x1="50.90" y1="617.74" x2="52.70" y2="617.74" stroke="#464646" stroke-width="1.1" />
<line x1="50.90" y1="591.51" x2="52.70" y2="591.51" stroke="#464646" stroke-width="1.1" />
<line x1="50.90" y1="565.29" x2="52.70" y2="565.29" stroke="#464646" stroke-width="1.1" />
<text x="45.70" y="687.28" font-size="12.8" text-anchor="end" fill="#111" >0</text>
<text x="45.70" y="661.06" font-size="12.8" text-anchor="end" fill="#111" >5</text>
<text x="45.70" y="634.83" font-size="12.8" text-anchor="end" fill="#111" >10</text>
<text x="45.70" y="608.61" font-size="12.8" text-anchor="end" fill="#111" >15</text>
<text x="45.70" y="582.38" font-size="12.8" text-anchor="end" fill="#111" >20</text>
<text x="45.70" y="556.16" font-size="12.8" text-anchor="end" fill="#111" >25</text>
<line x1="52.70" y1="683.30" x2="52.70" y2="686.50" stroke="#464646" stroke-width="1.1" />
<line x1="173.90" y1="683.30" x2="173.90" y2="686.50" stroke="#464646" stroke-width="1.1" />
<line x1="295.10" y1="683.30" x2="295.10" y2="686.50" stroke="#464646" stroke-width="1.1" />
<line x1="416.30" y1="683.30" x2="416.30" y2="686.50" stroke="#464646" stroke-width="1.1" />
<line x1="537.50" y1="683.30" x2="537.50" y2="686.50" stroke="#464646" stroke-width="1.1" />
<line x1="658.70" y1="683.30" x2="658.70" y2="686.50" stroke="#464646" stroke-width="1.1" />
<line x1="113.30" y1="683.30" x2="113.30" y2="685.10" stroke="#464646" stroke-width="1.1" />
<line x1="234.50" y1="683.30" x2="234.50" y2="685.10" stroke="#464646" stroke-width="1.1" />
<line x1="355.70" y1="683.30" x2="355.70" y2="685.10" stroke="#464646" stroke-width="1.1" />
<line x1="476.90" y1="683.30" x2="476.90" y2="685.10" stroke="#464646" stroke-width="1.1" />
<line x1="598.10" y1="683.30" x2="598.10" y2="685.10" stroke="#464646" stroke-width="1.1" />
<text x="52.70" y="700.10" font-size="12.8" text-anchor="middle" fill="#111" >0</text>
<text x="173.90" y="700.10" font-size="12.8" text-anchor="middle" fill="#111" >1000</text>
<text x="295.10" y="700.10" font-size="12.8" text-anchor="middle" fill="#111" >2000</text>
<text x="416.30" y="700.10" font-size="12.8" text-anchor="middle" fill="#111" >3000</text>
<text x="537.50" y="700.10" font-size="12.8" text-anchor="middle" fill="#111" >4000</text>
<text x="658.70" y="700.10" font-size="12.8" text-anchor="middle" fill="#111" >5000</text>
<text x="240.00" y="676.70" font-size="12.85" text-anchor="start" fill="#111" >Dark shelf stability at 25<tspan dx="-0.7">°</tspan><tspan dx="-0.5">C</tspan> with R.H. around 20-40%</text>
<text x="362.00" y="714.90" font-size="13.0" text-anchor="middle" fill="#111" >Time (hour)</text>
<text transform="translate(23.90,617.60) rotate(-90)" x="0" y="0" font-size="13.0" text-anchor="middle" fill="#111">PCE (%)</text>
<text x="3.80" y="548.00" font-size="16.5" text-anchor="start" fill="#000" font-weight="bold" >f</text>
<line x1="80.00" y1="600.70" x2="102.70" y2="600.70" stroke="#8a8a8a" stroke-width="1.1" />
<circle cx="91.35" cy="600.70" r="2.1" fill="#4a4a4a"/>
<circle cx="90.75" cy="600.10" r="0.7" fill="#bbb" opacity="0.8"/>
<text x="105.00" y="604.30" font-size="13.0" text-anchor="start" fill="#111" >Control</text>
<line x1="80.00" y1="616.60" x2="102.70" y2="616.60" stroke="#ee3b43" stroke-width="1.1" />
<circle cx="91.35" cy="616.60" r="2.1" fill="#ee3b43"/>
<circle cx="90.75" cy="616.00" r="0.7" fill="#fcc" opacity="0.8"/>
<text x="105.80" y="620.00" font-size="13.0" text-anchor="start" fill="#111" >D18</text>
</svg></body></html>
